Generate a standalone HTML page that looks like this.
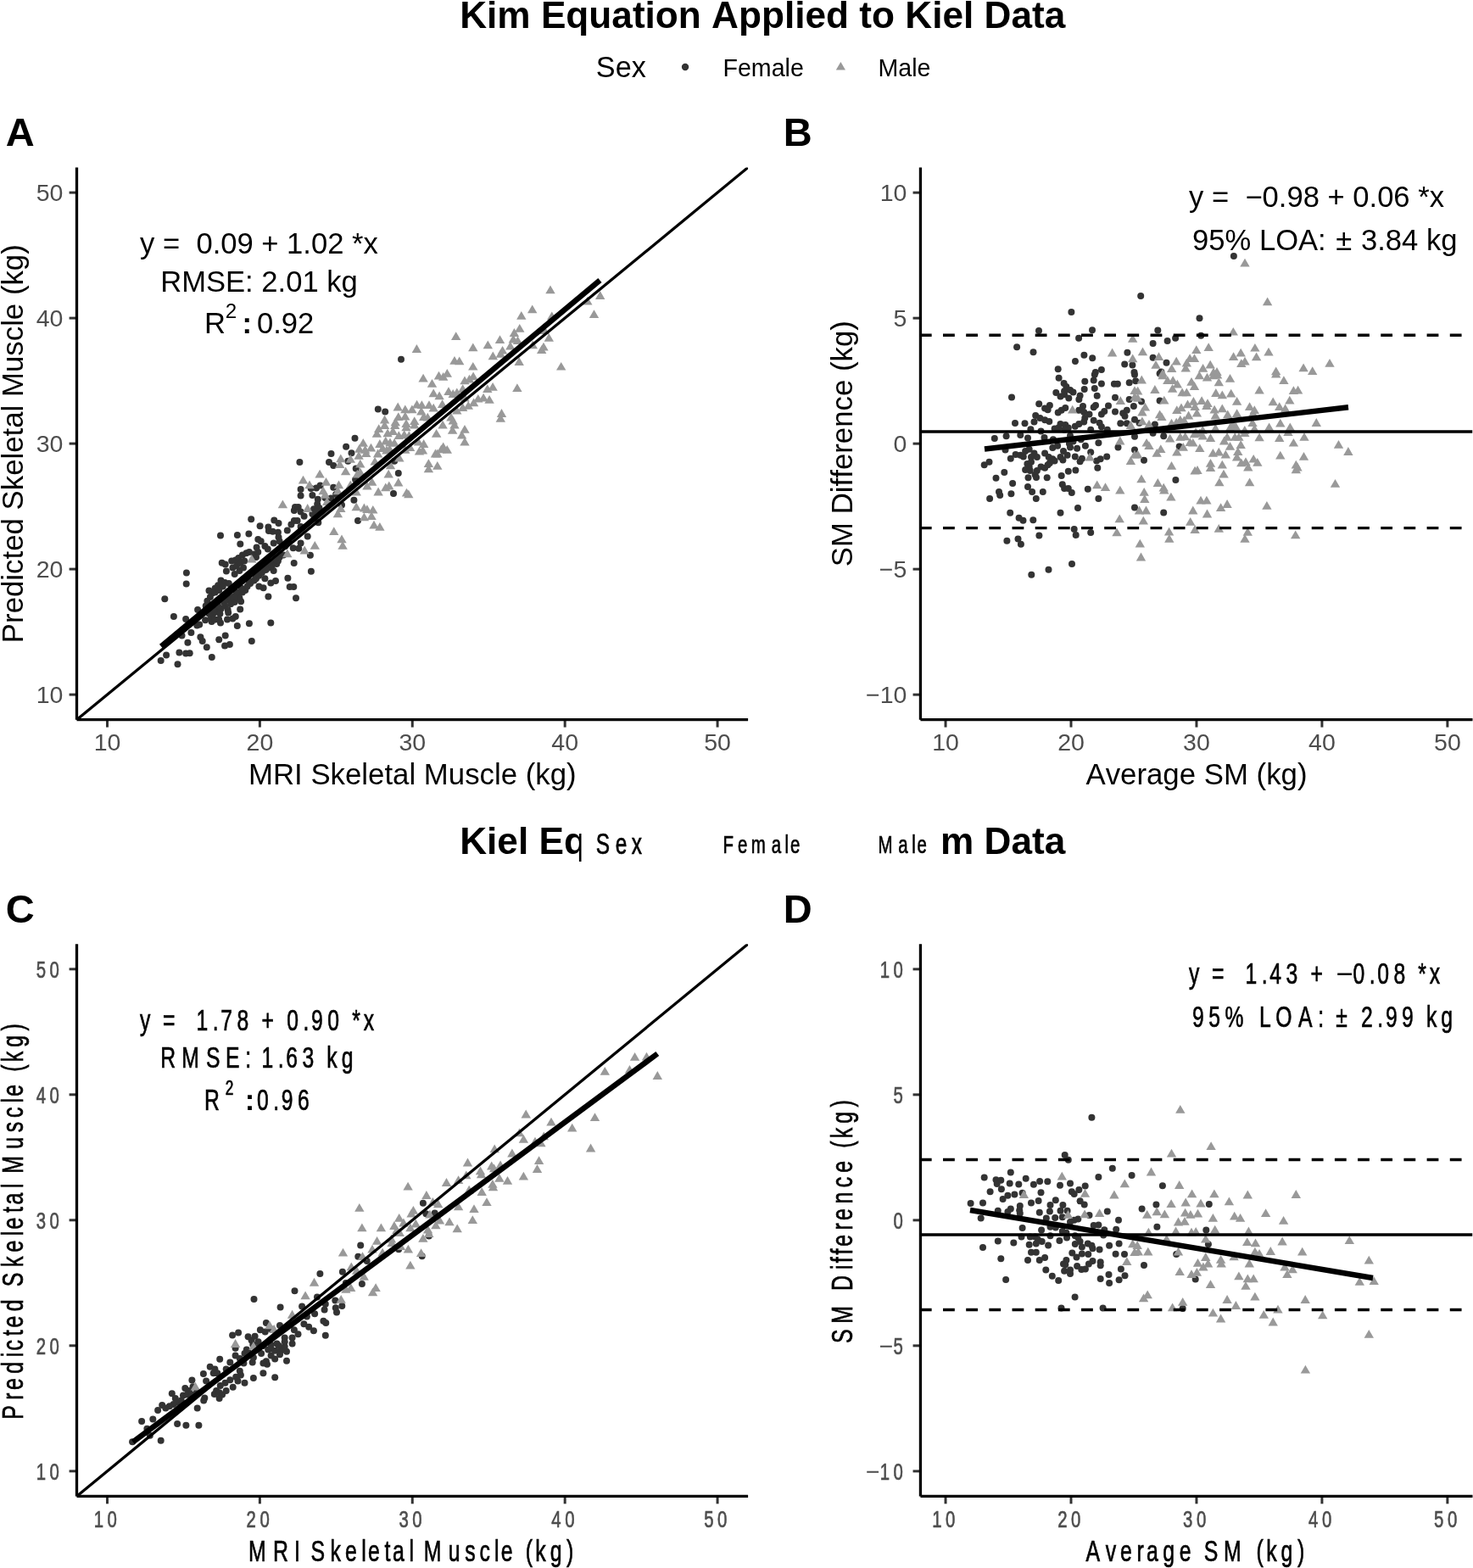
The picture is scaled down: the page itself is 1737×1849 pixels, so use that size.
<!DOCTYPE html>
<html><head><meta charset="utf-8"><style>html,body{margin:0;padding:0;background:#fff;overflow:hidden;}svg{display:block;}</style></head><body>
<svg width="1737" height="1849" viewBox="0 0 1737 1849" font-family='"Liberation Sans", Arial, Helvetica, sans-serif' style="font-kerning:none;font-feature-settings:&quot;kern&quot; 0,&quot;liga&quot; 0">
<rect width="1737" height="1849" fill="#fff"/>
<clipPath id="cA0"><rect x="90.5" y="197.55" width="791.6" height="651.1500000000001"/></clipPath>
<clipPath id="cB0"><rect x="1085.45" y="197.55" width="651.05" height="651.1500000000001"/></clipPath>
<g clip-path="url(#cA0)">
<g fill="#333333"><circle cx="219.9" cy="675.6" r="4.0"/><circle cx="219.7" cy="688.6" r="4.0"/><circle cx="194.3" cy="706.2" r="4.0"/><circle cx="204.9" cy="726.9" r="4.0"/><circle cx="219.1" cy="730.0" r="4.0"/><circle cx="233.1" cy="718.9" r="4.0"/><circle cx="246.5" cy="696.6" r="4.0"/><circle cx="316.4" cy="703.5" r="4.0"/><circle cx="339.4" cy="681.7" r="4.0"/><circle cx="346.7" cy="664.0" r="4.0"/><circle cx="349.0" cy="705.3" r="4.0"/><circle cx="319.3" cy="734.6" r="4.0"/><circle cx="293.9" cy="735.2" r="4.0"/><circle cx="279.8" cy="738.1" r="4.0"/><circle cx="296.8" cy="755.9" r="4.0"/><circle cx="283.2" cy="718.5" r="4.0"/><circle cx="284.1" cy="709.3" r="4.0"/><circle cx="221.4" cy="757.7" r="4.0"/><circle cx="225.4" cy="746.1" r="4.0"/><circle cx="214.5" cy="749.6" r="4.0"/><circle cx="236.4" cy="751.3" r="4.0"/><circle cx="238.7" cy="755.9" r="4.0"/><circle cx="243.8" cy="763.2" r="4.0"/><circle cx="258.2" cy="754.2" r="4.0"/><circle cx="265.7" cy="749.6" r="4.0"/><circle cx="265.1" cy="761.5" r="4.0"/><circle cx="270.9" cy="760.0" r="4.0"/><circle cx="249.8" cy="774.9" r="4.0"/><circle cx="211.4" cy="769.4" r="4.0"/><circle cx="219.1" cy="770.5" r="4.0"/><circle cx="223.7" cy="770.3" r="4.0"/><circle cx="196.1" cy="772.6" r="4.0"/><circle cx="189.7" cy="779.0" r="4.0"/><circle cx="209.5" cy="783.3" r="4.0"/><circle cx="268.0" cy="730.6" r="4.0"/><circle cx="274.4" cy="729.5" r="4.0"/><circle cx="277.8" cy="727.1" r="4.0"/><circle cx="242.1" cy="731.2" r="4.0"/><circle cx="249.6" cy="732.9" r="4.0"/><circle cx="260.0" cy="734.6" r="4.0"/><circle cx="322.7" cy="673.0" r="4.0"/><circle cx="319.3" cy="687.4" r="4.0"/><circle cx="325.0" cy="685.1" r="4.0"/><circle cx="312.4" cy="682.2" r="4.0"/><circle cx="310.6" cy="693.2" r="4.0"/><circle cx="305.4" cy="691.5" r="4.0"/><circle cx="341.7" cy="692.0" r="4.0"/><circle cx="346.3" cy="692.0" r="4.0"/><circle cx="266.9" cy="673.6" r="4.0"/><circle cx="276.7" cy="677.1" r="4.0"/><circle cx="261.7" cy="663.8" r="4.0"/><circle cx="265.7" cy="665.5" r="4.0"/><circle cx="326.2" cy="665.0" r="4.0"/><circle cx="327.9" cy="661.5" r="4.0"/><circle cx="232.3" cy="737.5" r="4.0"/><circle cx="235.2" cy="736.4" r="4.0"/><circle cx="287.6" cy="696.1" r="4.0"/><circle cx="260.5" cy="684.5" r="4.0"/><circle cx="265.1" cy="686.9" r="4.0"/><circle cx="269.8" cy="688.0" r="4.0"/><circle cx="257.1" cy="690.3" r="4.0"/><circle cx="253.6" cy="693.8" r="4.0"/><circle cx="250.2" cy="699.5" r="4.0"/><circle cx="247.9" cy="704.1" r="4.0"/><circle cx="244.4" cy="708.7" r="4.0"/><circle cx="245.6" cy="712.8" r="4.0"/><circle cx="242.7" cy="714.5" r="4.0"/><circle cx="253.6" cy="698.4" r="4.0"/><circle cx="258.2" cy="696.1" r="4.0"/><circle cx="262.8" cy="691.5" r="4.0"/><circle cx="273.2" cy="661.5" r="4.0"/><circle cx="277.8" cy="660.4" r="4.0"/><circle cx="281.3" cy="658.1" r="4.0"/><circle cx="285.9" cy="654.6" r="4.0"/><circle cx="290.5" cy="652.3" r="4.0"/><circle cx="274.4" cy="669.6" r="4.0"/><circle cx="279.0" cy="667.3" r="4.0"/><circle cx="283.6" cy="663.8" r="4.0"/><circle cx="288.2" cy="661.5" r="4.0"/><circle cx="282.4" cy="673.0" r="4.0"/><circle cx="287.0" cy="669.6" r="4.0"/><circle cx="293.9" cy="651.1" r="4.0"/><circle cx="299.7" cy="653.5" r="4.0"/><circle cx="304.3" cy="651.1" r="4.0"/><circle cx="302.0" cy="656.9" r="4.0"/><circle cx="251.3" cy="723.7" r="4.0"/><circle cx="255.9" cy="721.4" r="4.0"/><circle cx="260.5" cy="717.9" r="4.0"/><circle cx="265.1" cy="714.5" r="4.0"/><circle cx="268.6" cy="719.1" r="4.0"/><circle cx="269.2" cy="722.5" r="4.0"/><circle cx="249.0" cy="728.3" r="4.0"/><circle cx="253.6" cy="730.6" r="4.0"/><circle cx="258.2" cy="730.6" r="4.0"/><circle cx="264.0" cy="709.9" r="4.0"/><circle cx="268.6" cy="707.6" r="4.0"/><circle cx="272.1" cy="705.3" r="4.0"/><circle cx="276.7" cy="703.0" r="4.0"/><circle cx="281.3" cy="701.8" r="4.0"/><circle cx="285.9" cy="698.4" r="4.0"/><circle cx="289.3" cy="696.1" r="4.0"/><circle cx="291.6" cy="691.5" r="4.0"/><circle cx="295.1" cy="688.0" r="4.0"/><circle cx="299.7" cy="684.5" r="4.0"/><circle cx="302.0" cy="682.2" r="4.0"/><circle cx="305.4" cy="678.8" r="4.0"/><circle cx="308.9" cy="675.3" r="4.0"/><circle cx="313.5" cy="671.9" r="4.0"/><circle cx="316.9" cy="669.6" r="4.0"/><circle cx="320.4" cy="667.3" r="4.0"/><circle cx="322.7" cy="662.7" r="4.0"/><circle cx="326.2" cy="660.4" r="4.0"/><circle cx="329.6" cy="656.9" r="4.0"/><circle cx="334.2" cy="654.6" r="4.0"/><circle cx="296.2" cy="685.7" r="4.0"/><circle cx="292.8" cy="684.5" r="4.0"/><circle cx="300.8" cy="677.6" r="4.0"/><circle cx="305.4" cy="673.0" r="4.0"/><circle cx="313.5" cy="665.0" r="4.0"/><circle cx="318.1" cy="662.7" r="4.0"/><circle cx="310.1" cy="668.4" r="4.0"/><circle cx="276.7" cy="709.9" r="4.0"/><circle cx="282.4" cy="705.3" r="4.0"/><circle cx="259.4" cy="723.7" r="4.0"/><circle cx="251.3" cy="719.1" r="4.0"/><circle cx="246.7" cy="723.7" r="4.0"/><circle cx="257.1" cy="714.5" r="4.0"/><circle cx="272.1" cy="712.2" r="4.0"/><circle cx="279.0" cy="698.4" r="4.0"/><circle cx="284.7" cy="693.8" r="4.0"/><circle cx="275.5" cy="704.1" r="4.0"/><circle cx="296.2" cy="612.3" r="4.0"/><circle cx="306.6" cy="620.3" r="4.0"/><circle cx="316.4" cy="621.5" r="4.0"/><circle cx="323.3" cy="613.4" r="4.0"/><circle cx="328.5" cy="616.9" r="4.0"/><circle cx="316.9" cy="626.1" r="4.0"/><circle cx="321.6" cy="626.7" r="4.0"/><circle cx="327.9" cy="627.8" r="4.0"/><circle cx="328.5" cy="633.6" r="4.0"/><circle cx="329.6" cy="638.2" r="4.0"/><circle cx="304.3" cy="635.9" r="4.0"/><circle cx="307.7" cy="638.2" r="4.0"/><circle cx="293.4" cy="629.5" r="4.0"/><circle cx="279.9" cy="631.0" r="4.0"/><circle cx="260.0" cy="631.6" r="4.0"/><circle cx="283.3" cy="641.4" r="4.0"/><circle cx="302.6" cy="645.6" r="4.0"/><circle cx="312.4" cy="643.9" r="4.0"/><circle cx="315.8" cy="647.4" r="4.0"/><circle cx="322.7" cy="640.5" r="4.0"/><circle cx="338.8" cy="625.5" r="4.0"/><circle cx="343.4" cy="618.6" r="4.0"/><circle cx="346.9" cy="614.0" r="4.0"/><circle cx="346.9" cy="601.9" r="4.0"/><circle cx="348.0" cy="597.9" r="4.0"/><circle cx="345.7" cy="646.2" r="4.0"/><circle cx="340.0" cy="638.2" r="4.0"/><circle cx="336.5" cy="643.9" r="4.0"/><circle cx="418.5" cy="516.7" r="4.0"/><circle cx="408.1" cy="526.7" r="4.0"/><circle cx="390.5" cy="535.1" r="4.0"/><circle cx="414.5" cy="534.2" r="4.0"/><circle cx="388.0" cy="544.9" r="4.0"/><circle cx="393.2" cy="548.9" r="4.0"/><circle cx="410.4" cy="543.8" r="4.0"/><circle cx="419.7" cy="552.4" r="4.0"/><circle cx="353.4" cy="545.1" r="4.0"/><circle cx="419.1" cy="565.6" r="4.0"/><circle cx="469.8" cy="558.1" r="4.0"/><circle cx="464.0" cy="582.0" r="4.0"/><circle cx="417.4" cy="589.8" r="4.0"/><circle cx="422.0" cy="614.0" r="4.0"/><circle cx="362.7" cy="632.4" r="4.0"/><circle cx="354.6" cy="640.5" r="4.0"/><circle cx="352.3" cy="646.8" r="4.0"/><circle cx="375.3" cy="616.3" r="4.0"/><circle cx="354.6" cy="577.1" r="4.0"/><circle cx="354.6" cy="584.6" r="4.0"/><circle cx="368.4" cy="584.0" r="4.0"/><circle cx="366.7" cy="576.0" r="4.0"/><circle cx="373.0" cy="575.4" r="4.0"/><circle cx="377.6" cy="572.5" r="4.0"/><circle cx="393.2" cy="574.8" r="4.0"/><circle cx="374.8" cy="588.7" r="4.0"/><circle cx="383.4" cy="586.9" r="4.0"/><circle cx="390.3" cy="587.5" r="4.0"/><circle cx="374.2" cy="594.4" r="4.0"/><circle cx="370.1" cy="600.2" r="4.0"/><circle cx="376.5" cy="599.0" r="4.0"/><circle cx="351.7" cy="597.9" r="4.0"/><circle cx="354.6" cy="603.6" r="4.0"/><circle cx="358.6" cy="608.8" r="4.0"/><circle cx="350.6" cy="614.0" r="4.0"/><circle cx="403.0" cy="595.6" r="4.0"/><circle cx="465.1" cy="543.8" r="4.0"/><circle cx="396.1" cy="582.9" r="4.0"/><circle cx="373.0" cy="603.6" r="4.0"/><circle cx="368.4" cy="605.9" r="4.0"/><circle cx="370.7" cy="610.5" r="4.0"/><circle cx="354.6" cy="620.9" r="4.0"/><circle cx="365.9" cy="654.8" r="4.0"/><circle cx="366.9" cy="673.8" r="4.0"/><circle cx="473.0" cy="423.7" r="4.0"/><circle cx="445.8" cy="482.6" r="4.0"/><circle cx="454.2" cy="485.6" r="4.0"/></g>
<g fill="#999999"><path d="M291.1 663.5H302.5L296.8 653.7Z"/><path d="M333.1 657.2H344.5L338.8 647.4Z"/><path d="M327.7 599.3H339.1L333.4 589.5Z"/><path d="M441.0 510.1H452.4L446.7 500.3Z"/><path d="M447.9 506.0H459.3L453.6 496.2Z"/><path d="M460.0 506.0H471.4L465.7 496.2Z"/><path d="M473.3 508.3H484.7L479.0 498.6Z"/><path d="M483.0 505.5H494.4L488.7 495.7Z"/><path d="M516.4 505.5H527.8L522.1 495.7Z"/><path d="M530.2 505.5H541.7L536.0 495.7Z"/><path d="M542.3 510.7H553.7L548.0 500.9Z"/><path d="M438.7 515.8H450.1L444.4 506.0Z"/><path d="M451.4 515.3H462.8L457.1 505.5Z"/><path d="M457.7 513.0H469.1L463.4 503.2Z"/><path d="M464.6 518.1H476.0L470.3 508.3Z"/><path d="M471.0 517.0H482.4L476.7 507.2Z"/><path d="M476.7 518.1H488.1L482.4 508.3Z"/><path d="M508.9 515.8H520.4L514.6 506.0Z"/><path d="M527.9 511.8H539.4L533.6 502.0Z"/><path d="M538.9 517.6H550.3L544.6 507.8Z"/><path d="M542.3 525.6H553.7L548.0 515.8Z"/><path d="M422.6 526.8H434.0L428.3 517.0Z"/><path d="M418.0 533.7H429.4L423.7 523.9Z"/><path d="M431.8 532.5H443.2L437.5 522.7Z"/><path d="M426.1 538.9H437.4L431.8 529.1Z"/><path d="M442.2 527.9H453.6L447.9 518.1Z"/><path d="M449.1 524.5H460.5L454.8 514.7Z"/><path d="M454.3 526.2H465.7L460.0 516.4Z"/><path d="M459.4 526.8H470.8L465.1 517.0Z"/><path d="M487.7 525.6H499.1L493.4 515.8Z"/><path d="M494.0 527.9H505.4L499.7 518.1Z"/><path d="M477.9 532.0H489.3L483.6 522.2Z"/><path d="M472.1 534.8H483.5L477.8 525.0Z"/><path d="M488.8 536.6H500.2L494.5 526.8Z"/><path d="M492.8 535.4H504.2L498.5 525.6Z"/><path d="M510.1 539.4H521.5L515.8 529.6Z"/><path d="M517.0 531.4H528.4L522.7 521.6Z"/><path d="M521.6 534.8H533.0L527.3 525.0Z"/><path d="M424.9 534.8H436.3L430.6 525.0Z"/><path d="M445.6 533.1H457.0L451.3 523.3Z"/><path d="M439.9 539.4H451.3L445.6 529.6Z"/><path d="M450.2 535.4H461.6L455.9 525.6Z"/><path d="M453.7 533.7H465.1L459.4 523.9Z"/><path d="M514.7 534.3H526.1L520.4 524.5Z"/><path d="M396.1 545.2H407.5L401.8 535.4Z"/><path d="M395.0 552.1H406.4L400.7 542.3Z"/><path d="M407.6 545.8H419.0L413.3 536.0Z"/><path d="M417.4 541.8H428.8L423.1 532.0Z"/><path d="M419.1 551.5H430.5L424.8 541.7Z"/><path d="M465.2 544.6H476.6L470.9 534.8Z"/><path d="M499.7 551.0H511.1L505.4 541.2Z"/><path d="M510.1 553.8H521.5L515.8 544.0Z"/><path d="M499.7 557.3H511.1L505.4 547.5Z"/><path d="M454.8 553.3H466.2L460.5 543.5Z"/><path d="M436.4 548.6H447.8L442.1 538.9Z"/><path d="M507.8 539.4H519.2L513.5 529.6Z"/><path d="M401.9 560.2H413.3L407.6 550.4Z"/><path d="M371.4 563.6H382.8L377.1 553.8Z"/><path d="M351.8 570.5H363.2L357.5 560.7Z"/><path d="M419.1 561.3H430.5L424.8 551.5Z"/><path d="M415.7 563.6H427.1L421.4 553.8Z"/><path d="M452.5 563.6H463.9L458.2 553.8Z"/><path d="M433.0 572.8H444.4L438.7 563.0Z"/><path d="M464.1 573.4H475.4L469.8 563.6Z"/><path d="M359.3 576.3H370.7L365.0 566.5Z"/><path d="M378.8 572.8H390.2L384.5 563.0Z"/><path d="M393.8 576.3H405.2L399.5 566.5Z"/><path d="M375.4 583.2H386.8L381.1 573.4Z"/><path d="M377.7 587.8H389.1L383.4 578.0Z"/><path d="M392.7 583.2H404.1L398.4 573.4Z"/><path d="M407.6 576.3H419.0L413.3 566.5Z"/><path d="M427.2 577.4H438.6L432.9 567.6Z"/><path d="M449.1 579.2H460.5L454.8 569.4Z"/><path d="M453.1 577.4H464.5L458.8 567.6Z"/><path d="M440.4 584.4H451.8L446.1 574.6Z"/><path d="M473.8 585.5H485.2L479.5 575.7Z"/><path d="M476.1 587.2H487.5L481.8 577.4Z"/><path d="M414.5 584.4H425.9L420.2 574.6Z"/><path d="M414.5 602.2H425.9L420.2 592.4Z"/><path d="M423.8 603.4H435.1L429.4 593.6Z"/><path d="M427.2 605.1H438.6L432.9 595.3Z"/><path d="M434.1 605.6H445.5L439.8 595.9Z"/><path d="M357.0 603.9H368.4L362.7 594.1Z"/><path d="M396.1 603.9H407.5L401.8 594.1Z"/><path d="M392.7 610.2H404.1L398.4 600.5Z"/><path d="M380.0 595.9H391.4L385.7 586.1Z"/><path d="M423.8 614.3H435.1L429.4 604.5Z"/><path d="M432.4 613.1H443.8L438.1 603.3Z"/><path d="M435.3 623.5H446.7L441.0 613.7Z"/><path d="M442.2 625.8H453.6L447.9 616.0Z"/><path d="M388.1 631.0H399.4L393.8 621.2Z"/><path d="M397.3 640.2H408.7L403.0 630.4Z"/><path d="M398.4 647.7H409.8L404.1 637.9Z"/><path d="M365.6 647.7H377.0L371.3 637.9Z"/><path d="M353.5 653.4H364.9L359.2 643.6Z"/><path d="M532.0 401.0H543.4L537.7 391.2Z"/><path d="M485.7 415.9H497.1L491.4 406.1Z"/><path d="M530.2 429.7H541.7L536.0 419.9Z"/><path d="M536.0 430.3H547.4L541.7 420.5Z"/><path d="M493.4 450.5H504.8L499.1 440.7Z"/><path d="M511.8 447.6H523.2L517.5 437.8Z"/><path d="M517.0 448.7H528.4L522.7 438.9Z"/><path d="M521.6 444.7H533.0L527.3 434.9Z"/><path d="M503.8 456.8H515.2L509.5 447.0Z"/><path d="M542.3 453.3H553.7L548.0 443.6Z"/><path d="M505.5 468.3H516.9L511.2 458.5Z"/><path d="M512.4 471.2H523.8L518.1 461.4Z"/><path d="M523.3 466.0H534.7L529.0 456.2Z"/><path d="M528.5 468.9H539.9L534.2 459.1Z"/><path d="M533.1 467.2H544.5L538.8 457.4Z"/><path d="M540.0 463.1H551.4L545.7 453.3Z"/><path d="M463.5 484.4H474.9L469.2 474.6Z"/><path d="M472.1 487.3H483.5L477.8 477.5Z"/><path d="M480.2 487.3H491.6L485.9 477.5Z"/><path d="M485.9 481.6H497.3L491.6 471.8Z"/><path d="M491.7 482.1H503.1L497.4 472.3Z"/><path d="M500.3 482.1H511.7L506.0 472.3Z"/><path d="M505.5 485.6H516.9L511.2 475.8Z"/><path d="M515.9 481.0H527.3L521.6 471.2Z"/><path d="M491.1 489.6H502.5L496.8 479.8Z"/><path d="M464.1 495.9H475.4L469.8 486.2Z"/><path d="M472.1 495.4H483.5L477.8 485.6Z"/><path d="M483.0 501.1H494.4L488.7 491.3Z"/><path d="M494.0 495.9H505.4L499.7 486.2Z"/><path d="M498.6 496.5H510.0L504.3 486.7Z"/><path d="M526.2 496.5H537.6L531.9 486.7Z"/><path d="M528.5 500.5H539.9L534.2 490.8Z"/><path d="M447.9 499.4H459.3L453.6 489.6Z"/><path d="M460.6 502.3H472.0L466.3 492.5Z"/><path d="M473.3 504.0H484.7L479.0 494.2Z"/><path d="M533.1 488.5H544.5L538.8 478.7Z"/><path d="M540.0 485.0H551.4L545.7 475.2Z"/><path d="M542.3 473.5H553.7L548.0 463.7Z"/><path d="M622.0 369.3H633.4L627.7 359.5Z"/><path d="M609.1 376.8H620.5L614.8 367.0Z"/><path d="M694.8 375.0H706.2L700.5 365.2Z"/><path d="M687.1 359.5H698.5L692.8 349.7Z"/><path d="M607.0 391.8H618.5L612.8 382.0Z"/><path d="M600.7 396.9H612.1L606.4 387.1Z"/><path d="M583.8 405.0H595.2L589.5 395.2Z"/><path d="M569.6 411.3H581.0L575.3 401.5Z"/><path d="M552.1 414.2H563.5L557.8 404.4Z"/><path d="M599.6 404.4H611.0L605.3 394.6Z"/><path d="M604.8 406.1H616.2L610.5 396.3Z"/><path d="M596.1 412.5H607.5L601.8 402.7Z"/><path d="M586.9 417.6H598.3L592.6 407.9Z"/><path d="M584.6 421.7H596.0L590.3 411.9Z"/><path d="M575.6 424.3H587.0L581.3 414.5Z"/><path d="M641.6 402.7H653.0L647.3 392.9Z"/><path d="M635.3 413.6H646.7L641.0 403.8Z"/><path d="M633.0 417.1H644.4L638.7 407.3Z"/><path d="M622.6 411.3H634.0L628.3 401.5Z"/><path d="M606.5 430.9H617.9L612.2 421.1Z"/><path d="M552.1 436.6H563.5L557.8 426.9Z"/><path d="M656.0 436.6H667.4L661.7 426.9Z"/><path d="M552.4 448.2H563.8L558.1 438.4Z"/><path d="M547.8 451.6H559.2L553.5 441.8Z"/><path d="M575.4 460.8H586.8L581.1 451.0Z"/><path d="M569.1 463.1H580.5L574.8 453.3Z"/><path d="M604.2 462.0H615.6L609.9 452.2Z"/><path d="M564.4 473.5H575.9L570.1 463.7Z"/><path d="M558.1 474.6H569.5L563.8 464.9Z"/><path d="M571.4 475.8H582.8L577.1 466.0Z"/><path d="M552.9 479.2H564.3L558.6 469.5Z"/><path d="M546.6 482.7H558.0L552.3 472.9Z"/><path d="M585.8 491.9H597.2L591.5 482.1Z"/><path d="M584.6 497.7H596.0L590.3 487.9Z"/><path d="M645.0 377.3H656.5L650.8 367.6Z"/><path d="M636.4 394.0H647.8L642.1 384.2Z"/><path d="M643.3 346.2H654.7L649.0 336.4Z"/><path d="M702.0 352.9H713.4L707.7 343.1Z"/></g>
<line x1="90.50" y1="848.70" x2="882.06" y2="197.50" stroke="#000" stroke-width="3.3"/>
<line x1="190.05" y1="762.3" x2="707.4" y2="330.5" stroke="#000" stroke-width="6.5"/>
</g>
<line x1="126.48" y1="848.70" x2="126.48" y2="857.60" stroke="#333" stroke-width="3"/>
<text transform="translate(126.48,884.90)" x="-15.85" font-size="28.5" fill="#4D4D4D">10</text>
<line x1="306.38" y1="848.70" x2="306.38" y2="857.60" stroke="#333" stroke-width="3"/>
<text transform="translate(306.38,884.90)" x="-15.85" font-size="28.5" fill="#4D4D4D">20</text>
<line x1="486.28" y1="848.70" x2="486.28" y2="857.60" stroke="#333" stroke-width="3"/>
<text transform="translate(486.28,884.90)" x="-15.85" font-size="28.5" fill="#4D4D4D">30</text>
<line x1="666.18" y1="848.70" x2="666.18" y2="857.60" stroke="#333" stroke-width="3"/>
<text transform="translate(666.18,884.90)" x="-15.85" font-size="28.5" fill="#4D4D4D">40</text>
<line x1="846.08" y1="848.70" x2="846.08" y2="857.60" stroke="#333" stroke-width="3"/>
<text transform="translate(846.08,884.90)" x="-15.85" font-size="28.5" fill="#4D4D4D">50</text>
<line x1="81.60" y1="819.10" x2="90.50" y2="819.10" stroke="#333" stroke-width="3"/>
<text transform="translate(74.40,829.20)" x="-31.70" font-size="28.5" fill="#4D4D4D">10</text>
<line x1="81.60" y1="671.10" x2="90.50" y2="671.10" stroke="#333" stroke-width="3"/>
<text transform="translate(74.40,681.20)" x="-31.70" font-size="28.5" fill="#4D4D4D">20</text>
<line x1="81.60" y1="523.10" x2="90.50" y2="523.10" stroke="#333" stroke-width="3"/>
<text transform="translate(74.40,533.20)" x="-31.70" font-size="28.5" fill="#4D4D4D">30</text>
<line x1="81.60" y1="375.10" x2="90.50" y2="375.10" stroke="#333" stroke-width="3"/>
<text transform="translate(74.40,385.20)" x="-31.70" font-size="28.5" fill="#4D4D4D">40</text>
<line x1="81.60" y1="227.10" x2="90.50" y2="227.10" stroke="#333" stroke-width="3"/>
<text transform="translate(74.40,237.20)" x="-31.70" font-size="28.5" fill="#4D4D4D">50</text>
<line x1="90.50" y1="197.55" x2="90.50" y2="848.70" stroke="#000" stroke-width="3.3"/>
<line x1="90.50" y1="848.70" x2="882.10" y2="848.70" stroke="#000" stroke-width="3.3"/>
<text transform="translate(486.30,925.20)" x="-193.38" font-size="34.8">MRI Skeletal Muscle (kg)</text>
<text transform="translate(26.60,523.15) rotate(-90)" x="-234.99" font-size="34.8">Predicted Skeletal Muscle (kg)</text>
<g clip-path="url(#cB0)">
<g fill="#333333"><circle cx="1263.4" cy="368.1" r="4.0"/><circle cx="1225.0" cy="389.9" r="4.0"/><circle cx="1288.0" cy="389.2" r="4.0"/><circle cx="1272.1" cy="398.8" r="4.0"/><circle cx="1199.1" cy="409.2" r="4.0"/><circle cx="1218.5" cy="415.3" r="4.0"/><circle cx="1329.4" cy="415.7" r="4.0"/><circle cx="1278.4" cy="418.7" r="4.0"/><circle cx="1288.2" cy="422.2" r="4.0"/><circle cx="1268.0" cy="426.1" r="4.0"/><circle cx="1247.7" cy="435.3" r="4.0"/><circle cx="1326.2" cy="429.6" r="4.0"/><circle cx="1335.4" cy="430.5" r="4.0"/><circle cx="1298.9" cy="436.0" r="4.0"/><circle cx="1291.8" cy="439.1" r="4.0"/><circle cx="1337.5" cy="439.1" r="4.0"/><circle cx="1454.9" cy="302.1" r="4.0"/><circle cx="1345.2" cy="348.9" r="4.0"/><circle cx="1414.5" cy="375.2" r="4.0"/><circle cx="1365.3" cy="389.6" r="4.0"/><circle cx="1416.2" cy="395.7" r="4.0"/><circle cx="1386.1" cy="398.8" r="4.0"/><circle cx="1376.6" cy="401.9" r="4.0"/><circle cx="1359.6" cy="405.1" r="4.0"/><circle cx="1359.6" cy="421.8" r="4.0"/><circle cx="1375.5" cy="427.8" r="4.0"/><circle cx="1369.4" cy="438.5" r="4.0"/><circle cx="1248.6" cy="445.8" r="4.0"/><circle cx="1254.6" cy="452.1" r="4.0"/><circle cx="1279.3" cy="449.8" r="4.0"/><circle cx="1289.7" cy="448.6" r="4.0"/><circle cx="1290.8" cy="441.7" r="4.0"/><circle cx="1298.9" cy="452.4" r="4.0"/><circle cx="1313.9" cy="452.7" r="4.0"/><circle cx="1317.9" cy="452.7" r="4.0"/><circle cx="1331.7" cy="451.3" r="4.0"/><circle cx="1338.0" cy="441.7" r="4.0"/><circle cx="1339.2" cy="449.2" r="4.0"/><circle cx="1257.4" cy="456.1" r="4.0"/><circle cx="1262.0" cy="460.1" r="4.0"/><circle cx="1265.5" cy="462.4" r="4.0"/><circle cx="1278.7" cy="459.0" r="4.0"/><circle cx="1290.8" cy="457.9" r="4.0"/><circle cx="1245.3" cy="463.0" r="4.0"/><circle cx="1250.5" cy="467.6" r="4.0"/><circle cx="1255.1" cy="465.3" r="4.0"/><circle cx="1260.3" cy="469.4" r="4.0"/><circle cx="1273.6" cy="466.5" r="4.0"/><circle cx="1272.4" cy="471.1" r="4.0"/><circle cx="1293.7" cy="466.7" r="4.0"/><circle cx="1315.0" cy="468.8" r="4.0"/><circle cx="1331.7" cy="470.9" r="4.0"/><circle cx="1193.0" cy="468.6" r="4.0"/><circle cx="1255.1" cy="461.3" r="4.0"/><circle cx="1225.2" cy="476.3" r="4.0"/><circle cx="1237.9" cy="478.0" r="4.0"/><circle cx="1232.1" cy="481.4" r="4.0"/><circle cx="1235.6" cy="483.2" r="4.0"/><circle cx="1256.3" cy="480.9" r="4.0"/><circle cx="1251.7" cy="483.8" r="4.0"/><circle cx="1247.7" cy="486.6" r="4.0"/><circle cx="1277.0" cy="479.1" r="4.0"/><circle cx="1272.4" cy="483.8" r="4.0"/><circle cx="1278.2" cy="486.1" r="4.0"/><circle cx="1292.0" cy="478.0" r="4.0"/><circle cx="1289.7" cy="480.3" r="4.0"/><circle cx="1284.5" cy="488.4" r="4.0"/><circle cx="1307.0" cy="478.6" r="4.0"/><circle cx="1302.3" cy="484.9" r="4.0"/><circle cx="1298.9" cy="488.4" r="4.0"/><circle cx="1315.0" cy="485.5" r="4.0"/><circle cx="1324.2" cy="487.2" r="4.0"/><circle cx="1328.8" cy="483.8" r="4.0"/><circle cx="1326.5" cy="490.7" r="4.0"/><circle cx="1336.9" cy="479.1" r="4.0"/><circle cx="1221.2" cy="490.1" r="4.0"/><circle cx="1197.0" cy="499.1" r="4.0"/><circle cx="1208.5" cy="499.3" r="4.0"/><circle cx="1219.5" cy="497.6" r="4.0"/><circle cx="1226.4" cy="493.0" r="4.0"/><circle cx="1232.1" cy="495.3" r="4.0"/><circle cx="1237.3" cy="497.0" r="4.0"/><circle cx="1338.0" cy="494.7" r="4.0"/><circle cx="1321.3" cy="499.3" r="4.0"/><circle cx="1328.8" cy="499.3" r="4.0"/><circle cx="1250.5" cy="499.9" r="4.0"/><circle cx="1256.3" cy="501.0" r="4.0"/><circle cx="1267.8" cy="502.8" r="4.0"/><circle cx="1272.4" cy="499.9" r="4.0"/><circle cx="1278.2" cy="497.6" r="4.0"/><circle cx="1279.3" cy="493.0" r="4.0"/><circle cx="1289.7" cy="495.8" r="4.0"/><circle cx="1296.6" cy="498.7" r="4.0"/><circle cx="1298.9" cy="503.3" r="4.0"/><circle cx="1305.8" cy="506.8" r="4.0"/><circle cx="1286.2" cy="506.8" r="4.0"/><circle cx="1215.4" cy="506.2" r="4.0"/><circle cx="1227.5" cy="508.5" r="4.0"/><circle cx="1243.6" cy="505.6" r="4.0"/><circle cx="1248.2" cy="504.5" r="4.0"/><circle cx="1259.8" cy="504.5" r="4.0"/><circle cx="1255.1" cy="506.8" r="4.0"/><circle cx="1172.8" cy="516.9" r="4.0"/><circle cx="1186.6" cy="514.3" r="4.0"/><circle cx="1203.3" cy="513.1" r="4.0"/><circle cx="1212.0" cy="516.6" r="4.0"/><circle cx="1231.5" cy="516.0" r="4.0"/><circle cx="1241.9" cy="518.3" r="4.0"/><circle cx="1262.0" cy="513.7" r="4.0"/><circle cx="1274.7" cy="518.3" r="4.0"/><circle cx="1295.4" cy="522.3" r="4.0"/><circle cx="1279.9" cy="525.8" r="4.0"/><circle cx="1318.5" cy="527.5" r="4.0"/><circle cx="1338.0" cy="514.8" r="4.0"/><circle cx="1265.5" cy="520.6" r="4.0"/><circle cx="1260.9" cy="522.9" r="4.0"/><circle cx="1185.5" cy="530.4" r="4.0"/><circle cx="1213.7" cy="529.8" r="4.0"/><circle cx="1241.3" cy="528.1" r="4.0"/><circle cx="1247.1" cy="525.8" r="4.0"/><circle cx="1262.0" cy="527.5" r="4.0"/><circle cx="1270.1" cy="528.7" r="4.0"/><circle cx="1254.0" cy="532.1" r="4.0"/><circle cx="1258.6" cy="536.7" r="4.0"/><circle cx="1286.2" cy="533.3" r="4.0"/><circle cx="1267.8" cy="538.5" r="4.0"/><circle cx="1275.9" cy="540.8" r="4.0"/><circle cx="1273.6" cy="544.2" r="4.0"/><circle cx="1293.1" cy="543.6" r="4.0"/><circle cx="1297.7" cy="541.3" r="4.0"/><circle cx="1305.2" cy="538.5" r="4.0"/><circle cx="1338.0" cy="530.4" r="4.0"/><circle cx="1197.6" cy="536.1" r="4.0"/><circle cx="1203.3" cy="536.7" r="4.0"/><circle cx="1206.8" cy="538.5" r="4.0"/><circle cx="1191.8" cy="540.8" r="4.0"/><circle cx="1219.5" cy="534.4" r="4.0"/><circle cx="1222.9" cy="539.0" r="4.0"/><circle cx="1232.1" cy="534.4" r="4.0"/><circle cx="1236.7" cy="539.0" r="4.0"/><circle cx="1241.3" cy="541.3" r="4.0"/><circle cx="1243.6" cy="543.6" r="4.0"/><circle cx="1250.5" cy="539.0" r="4.0"/><circle cx="1253.4" cy="542.5" r="4.0"/><circle cx="1216.0" cy="539.0" r="4.0"/><circle cx="1209.1" cy="532.1" r="4.0"/><circle cx="1166.5" cy="544.8" r="4.0"/><circle cx="1160.7" cy="548.2" r="4.0"/><circle cx="1184.3" cy="556.9" r="4.0"/><circle cx="1211.4" cy="547.1" r="4.0"/><circle cx="1216.0" cy="544.8" r="4.0"/><circle cx="1213.7" cy="550.5" r="4.0"/><circle cx="1209.1" cy="554.0" r="4.0"/><circle cx="1214.8" cy="555.1" r="4.0"/><circle cx="1222.9" cy="555.1" r="4.0"/><circle cx="1227.5" cy="550.5" r="4.0"/><circle cx="1232.1" cy="551.7" r="4.0"/><circle cx="1235.6" cy="548.2" r="4.0"/><circle cx="1237.9" cy="545.9" r="4.0"/><circle cx="1251.7" cy="560.9" r="4.0"/><circle cx="1259.8" cy="555.7" r="4.0"/><circle cx="1268.4" cy="554.6" r="4.0"/><circle cx="1294.3" cy="551.7" r="4.0"/><circle cx="1220.6" cy="559.8" r="4.0"/><circle cx="1174.5" cy="563.8" r="4.0"/><circle cx="1194.1" cy="570.1" r="4.0"/><circle cx="1212.5" cy="563.2" r="4.0"/><circle cx="1222.0" cy="563.0" r="4.0"/><circle cx="1234.7" cy="563.2" r="4.0"/><circle cx="1212.0" cy="574.1" r="4.0"/><circle cx="1217.1" cy="579.9" r="4.0"/><circle cx="1229.8" cy="579.9" r="4.0"/><circle cx="1252.8" cy="571.3" r="4.0"/><circle cx="1255.1" cy="575.9" r="4.0"/><circle cx="1259.8" cy="575.9" r="4.0"/><circle cx="1263.8" cy="581.0" r="4.0"/><circle cx="1282.8" cy="576.8" r="4.0"/><circle cx="1178.0" cy="579.9" r="4.0"/><circle cx="1179.2" cy="583.9" r="4.0"/><circle cx="1192.4" cy="582.2" r="4.0"/><circle cx="1167.1" cy="588.0" r="4.0"/><circle cx="1221.8" cy="588.0" r="4.0"/><circle cx="1295.4" cy="588.0" r="4.0"/><circle cx="1367.6" cy="440.6" r="4.0"/><circle cx="1346.0" cy="473.6" r="4.0"/><circle cx="1367.6" cy="472.5" r="4.0"/><circle cx="1343.5" cy="498.7" r="4.0"/><circle cx="1361.9" cy="500.4" r="4.0"/><circle cx="1359.6" cy="510.8" r="4.0"/><circle cx="1372.2" cy="514.3" r="4.0"/><circle cx="1390.7" cy="526.4" r="4.0"/><circle cx="1349.0" cy="542.8" r="4.0"/><circle cx="1386.4" cy="566.1" r="4.0"/><circle cx="1191.2" cy="604.7" r="4.0"/><circle cx="1201.6" cy="610.7" r="4.0"/><circle cx="1206.5" cy="613.8" r="4.0"/><circle cx="1218.3" cy="613.3" r="4.0"/><circle cx="1250.5" cy="604.7" r="4.0"/><circle cx="1271.0" cy="599.0" r="4.0"/><circle cx="1266.7" cy="624.0" r="4.0"/><circle cx="1268.7" cy="630.9" r="4.0"/><circle cx="1286.2" cy="628.0" r="4.0"/><circle cx="1225.4" cy="631.5" r="4.0"/><circle cx="1187.4" cy="637.8" r="4.0"/><circle cx="1200.5" cy="635.5" r="4.0"/><circle cx="1203.9" cy="641.8" r="4.0"/><circle cx="1264.0" cy="665.1" r="4.0"/><circle cx="1236.5" cy="671.8" r="4.0"/><circle cx="1216.3" cy="677.7" r="4.0"/><circle cx="1338.0" cy="598.6" r="4.0"/><circle cx="1372.2" cy="604.4" r="4.0"/></g>
<g fill="#999999"><path d="M1305.9 420.4H1317.3L1311.6 410.6Z"/><path d="M1330.0 403.7H1341.4L1335.7 393.9Z"/><path d="M1330.0 427.3H1341.4L1335.7 417.5Z"/><path d="M1462.3 314.5H1473.7L1468.0 304.7Z"/><path d="M1488.9 360.3H1500.3L1494.6 350.5Z"/><path d="M1448.6 395.6H1460.0L1454.3 385.9Z"/><path d="M1341.8 419.2H1353.2L1347.5 409.5Z"/><path d="M1405.1 416.9H1416.5L1410.8 407.2Z"/><path d="M1419.5 414.1H1430.9L1425.2 404.3Z"/><path d="M1474.2 414.6H1485.6L1479.9 404.9Z"/><path d="M1490.3 419.5H1501.7L1496.0 409.7Z"/><path d="M1360.8 425.0H1372.2L1366.5 415.2Z"/><path d="M1457.5 420.6H1468.9L1463.2 410.8Z"/><path d="M1448.9 425.0H1460.3L1454.6 415.2Z"/><path d="M1475.9 425.2H1487.3L1481.6 415.4Z"/><path d="M1381.5 430.5H1392.9L1387.2 420.7Z"/><path d="M1397.4 427.1H1408.8L1403.1 417.3Z"/><path d="M1402.8 427.1H1414.2L1408.5 417.3Z"/><path d="M1393.6 432.5H1405.0L1399.3 422.7Z"/><path d="M1357.3 434.8H1368.7L1363.0 425.0Z"/><path d="M1462.3 430.5H1473.7L1468.0 420.7Z"/><path d="M1458.1 433.1H1469.5L1463.8 423.3Z"/><path d="M1421.5 434.4H1432.9L1427.2 424.7Z"/><path d="M1376.0 439.1H1387.4L1381.7 429.3Z"/><path d="M1392.5 438.6H1403.9L1398.2 428.8Z"/><path d="M1412.9 438.8H1424.3L1418.6 429.0Z"/><path d="M1429.3 442.9H1440.7L1435.0 433.1Z"/><path d="M1499.0 442.3H1510.4L1504.7 432.5Z"/><path d="M1531.4 438.2H1542.8L1537.1 428.5Z"/><path d="M1425.3 443.4H1436.7L1431.0 433.6Z"/><path d="M1365.4 444.6H1376.8L1371.1 434.8Z"/><path d="M1562.3 432.8H1573.7L1568.0 423.0Z"/><path d="M1542.0 442.1H1553.4L1547.7 432.3Z"/><path d="M1259.0 487.5H1270.4L1264.7 477.7Z"/><path d="M1315.6 477.1H1327.0L1321.3 467.3Z"/><path d="M1327.7 505.9H1339.1L1333.4 496.1Z"/><path d="M1332.3 465.0H1343.7L1338.0 455.2Z"/><path d="M1332.3 472.5H1343.7L1338.0 462.7Z"/><path d="M1315.1 524.4H1326.5L1320.8 514.6Z"/><path d="M1279.4 543.4H1290.8L1285.1 533.6Z"/><path d="M1327.7 547.9H1339.1L1333.4 538.1Z"/><path d="M1332.3 540.5H1343.7L1338.0 530.7Z"/><path d="M1288.0 576.2H1299.4L1293.7 566.4Z"/><path d="M1297.8 579.0H1309.2L1303.5 569.2Z"/><path d="M1315.1 582.5H1326.5L1320.8 572.7Z"/><path d="M1340.6 452.4H1352.0L1346.3 442.6Z"/><path d="M1365.4 447.2H1376.8L1371.1 437.4Z"/><path d="M1371.1 453.0H1382.5L1376.8 443.2Z"/><path d="M1377.5 453.0H1388.9L1383.2 443.2Z"/><path d="M1382.7 457.6H1394.1L1388.4 447.8Z"/><path d="M1399.3 454.7H1410.8L1405.0 444.9Z"/><path d="M1402.8 459.9H1414.2L1408.5 450.1Z"/><path d="M1408.6 447.2H1420.0L1414.3 437.4Z"/><path d="M1417.8 449.5H1429.2L1423.5 439.7Z"/><path d="M1425.3 447.2H1436.7L1431.0 437.4Z"/><path d="M1429.9 446.6H1441.3L1435.6 436.8Z"/><path d="M1431.6 455.3H1443.0L1437.3 445.5Z"/><path d="M1444.8 450.7H1456.2L1450.5 440.9Z"/><path d="M1499.0 445.5H1510.4L1504.7 435.7Z"/><path d="M1508.2 453.0H1519.6L1513.9 443.2Z"/><path d="M1356.2 463.9H1367.6L1361.9 454.1Z"/><path d="M1376.9 462.8H1388.3L1382.6 453.0Z"/><path d="M1336.0 465.6H1347.4L1341.7 455.8Z"/><path d="M1388.4 467.3H1399.8L1394.1 457.6Z"/><path d="M1393.6 467.3H1405.0L1399.3 457.6Z"/><path d="M1428.1 467.9H1439.5L1433.8 458.1Z"/><path d="M1435.6 470.2H1447.0L1441.3 460.4Z"/><path d="M1446.0 468.5H1457.4L1451.7 458.7Z"/><path d="M1479.4 464.5H1490.8L1485.1 454.7Z"/><path d="M1519.7 465.0H1531.1L1525.4 455.2Z"/><path d="M1524.9 464.5H1536.3L1530.6 454.7Z"/><path d="M1367.1 476.6H1378.5L1372.8 466.8Z"/><path d="M1394.8 481.2H1406.2L1400.5 471.4Z"/><path d="M1401.7 477.7H1413.1L1407.4 467.9Z"/><path d="M1411.4 477.1H1422.8L1417.1 467.3Z"/><path d="M1418.3 480.0H1429.8L1424.0 470.2Z"/><path d="M1452.9 477.7H1464.3L1458.6 467.9Z"/><path d="M1495.5 478.3H1506.9L1501.2 468.5Z"/><path d="M1515.1 476.6H1526.5L1520.8 466.8Z"/><path d="M1336.0 473.7H1347.4L1341.7 463.9Z"/><path d="M1344.7 484.6H1356.1L1350.4 474.8Z"/><path d="M1341.2 490.4H1352.6L1346.9 480.6Z"/><path d="M1382.1 488.1H1393.5L1387.8 478.3Z"/><path d="M1387.3 485.2H1398.7L1393.0 475.4Z"/><path d="M1403.4 484.0H1414.8L1409.1 474.2Z"/><path d="M1417.2 482.9H1428.6L1422.9 473.1Z"/><path d="M1426.4 487.5H1437.8L1432.1 477.7Z"/><path d="M1435.6 486.3H1447.0L1441.3 476.6Z"/><path d="M1467.9 484.0H1479.3L1473.6 474.2Z"/><path d="M1473.6 488.1H1485.0L1479.3 478.3Z"/><path d="M1503.0 484.0H1514.4L1508.7 474.2Z"/><path d="M1509.9 486.3H1521.3L1515.6 476.6Z"/><path d="M1361.9 493.3H1373.3L1367.6 483.5Z"/><path d="M1364.2 496.1H1375.6L1369.9 486.3Z"/><path d="M1395.9 494.4H1407.3L1401.6 484.6Z"/><path d="M1405.7 491.5H1417.1L1411.4 481.7Z"/><path d="M1427.6 494.4H1439.0L1433.3 484.6Z"/><path d="M1442.0 493.3H1453.4L1447.7 483.5Z"/><path d="M1452.9 492.1H1464.3L1458.6 482.3Z"/><path d="M1471.9 492.1H1483.3L1477.6 482.3Z"/><path d="M1341.2 501.3H1352.6L1346.9 491.5Z"/><path d="M1349.3 504.8H1360.7L1355.0 495.0Z"/><path d="M1381.5 502.5H1392.9L1387.2 492.7Z"/><path d="M1386.1 499.6H1397.5L1391.8 489.8Z"/><path d="M1390.7 500.2H1402.1L1396.4 490.4Z"/><path d="M1444.8 508.8H1456.2L1450.5 499.0Z"/><path d="M1451.7 507.6H1463.1L1457.4 497.9Z"/><path d="M1471.3 503.0H1482.7L1477.0 493.2Z"/><path d="M1504.1 503.6H1515.5L1509.8 493.8Z"/><path d="M1515.6 508.2H1527.0L1521.3 498.4Z"/><path d="M1490.9 508.2H1502.3L1496.6 498.4Z"/><path d="M1427.6 509.4H1439.0L1433.3 499.6Z"/><path d="M1462.1 511.7H1473.5L1467.8 501.9Z"/><path d="M1473.6 509.9H1485.0L1479.3 500.2Z"/><path d="M1375.8 503.6H1387.2L1381.5 493.8Z"/><path d="M1448.3 504.8H1459.7L1454.0 495.0Z"/><path d="M1412.6 511.7H1424.0L1418.3 501.9Z"/><path d="M1409.1 515.1H1420.5L1414.8 505.3Z"/><path d="M1404.5 514.0H1415.9L1410.2 504.2Z"/><path d="M1374.0 521.5H1385.4L1379.7 511.7Z"/><path d="M1386.1 519.7H1397.5L1391.8 509.9Z"/><path d="M1391.9 519.2H1403.3L1397.6 509.4Z"/><path d="M1402.8 516.3H1414.2L1408.5 506.5Z"/><path d="M1412.6 518.6H1424.0L1418.3 508.8Z"/><path d="M1421.8 520.9H1433.2L1427.5 511.1Z"/><path d="M1441.4 519.7H1452.8L1447.1 509.9Z"/><path d="M1450.6 519.7H1462.0L1456.3 509.9Z"/><path d="M1455.2 519.7H1466.6L1460.9 509.9Z"/><path d="M1462.1 515.1H1473.5L1467.8 505.3Z"/><path d="M1479.4 520.3H1490.8L1485.1 510.5Z"/><path d="M1503.0 520.9H1514.4L1508.7 511.1Z"/><path d="M1532.3 519.7H1543.7L1538.0 509.9Z"/><path d="M1513.3 514.0H1524.7L1519.0 504.2Z"/><path d="M1346.4 526.6H1357.8L1352.1 516.9Z"/><path d="M1349.3 530.1H1360.7L1355.0 520.3Z"/><path d="M1397.6 526.1H1409.0L1403.3 516.3Z"/><path d="M1401.1 526.6H1412.5L1406.8 516.9Z"/><path d="M1389.6 531.8H1401.0L1395.3 522.0Z"/><path d="M1409.1 533.0H1420.5L1414.8 523.2Z"/><path d="M1437.9 524.4H1449.3L1443.6 514.6Z"/><path d="M1444.8 530.7H1456.2L1450.5 520.9Z"/><path d="M1457.5 528.9H1468.9L1463.2 519.1Z"/><path d="M1519.7 526.6H1531.1L1525.4 516.9Z"/><path d="M1358.5 538.7H1369.9L1364.2 528.9Z"/><path d="M1363.1 534.1H1374.5L1368.8 524.3Z"/><path d="M1382.1 537.6H1393.5L1387.8 527.8Z"/><path d="M1424.7 538.7H1436.1L1430.4 528.9Z"/><path d="M1431.6 537.6H1443.0L1437.3 527.8Z"/><path d="M1439.6 540.5H1451.0L1445.3 530.7Z"/><path d="M1454.0 537.0H1465.5L1459.8 527.2Z"/><path d="M1452.9 543.4H1464.3L1458.6 533.6Z"/><path d="M1504.1 541.6H1515.5L1509.8 531.8Z"/><path d="M1531.8 542.8H1543.2L1537.5 533.0Z"/><path d="M1336.0 540.5H1347.4L1341.7 530.7Z"/><path d="M1472.5 545.6H1483.9L1478.2 535.9Z"/><path d="M1375.8 553.7H1387.2L1381.5 543.9Z"/><path d="M1403.4 559.5H1414.8L1409.1 549.7Z"/><path d="M1406.3 558.9H1417.7L1412.0 549.1Z"/><path d="M1421.8 550.8H1433.2L1427.5 541.0Z"/><path d="M1421.8 556.0H1433.2L1427.5 546.2Z"/><path d="M1435.6 552.6H1447.0L1441.3 542.8Z"/><path d="M1458.1 550.2H1469.5L1463.8 540.5Z"/><path d="M1463.3 549.1H1474.7L1469.0 539.3Z"/><path d="M1466.1 555.4H1477.5L1471.8 545.6Z"/><path d="M1477.1 549.7H1488.5L1482.8 539.9Z"/><path d="M1522.6 552.6H1534.0L1528.3 542.8Z"/><path d="M1524.3 555.4H1535.7L1530.0 545.6Z"/><path d="M1522.6 558.3H1534.0L1528.3 548.5Z"/><path d="M1437.3 563.5H1448.8L1443.0 553.7Z"/><path d="M1340.3 569.2H1351.7L1346.0 559.5Z"/><path d="M1359.6 573.9H1371.0L1365.3 564.1Z"/><path d="M1366.5 579.6H1377.9L1372.2 569.8Z"/><path d="M1367.1 582.5H1378.5L1372.8 572.7Z"/><path d="M1432.2 573.3H1443.6L1437.9 563.5Z"/><path d="M1467.9 573.3H1479.3L1473.6 563.5Z"/><path d="M1343.5 584.8H1354.9L1349.2 575.0Z"/><path d="M1375.2 590.5H1386.6L1380.9 580.8Z"/><path d="M1344.1 592.9H1355.5L1349.8 583.1Z"/><path d="M1410.3 594.6H1421.7L1416.0 584.8Z"/><path d="M1417.2 594.6H1428.6L1422.9 584.8Z"/><path d="M1546.6 502.9H1558.0L1552.3 493.1Z"/><path d="M1572.8 528.8H1584.2L1578.5 519.0Z"/><path d="M1584.2 536.9H1595.6L1589.9 527.1Z"/><path d="M1568.8 574.7H1580.2L1574.5 564.9Z"/><path d="M1314.5 616.2H1325.9L1320.2 606.4Z"/><path d="M1311.3 632.3H1322.7L1317.0 622.5Z"/><path d="M1441.4 598.9H1452.8L1447.1 589.1Z"/><path d="M1433.9 603.0H1445.3L1439.6 593.2Z"/><path d="M1488.2 600.7H1499.6L1493.9 590.9Z"/><path d="M1345.8 606.4H1357.2L1351.5 596.6Z"/><path d="M1337.8 606.4H1349.2L1343.5 596.6Z"/><path d="M1401.1 606.4H1412.5L1406.8 596.6Z"/><path d="M1417.8 610.4H1429.2L1423.5 600.6Z"/><path d="M1342.6 618.5H1354.0L1348.3 608.7Z"/><path d="M1398.0 619.7H1409.4L1403.7 609.9Z"/><path d="M1372.9 631.5H1384.3L1378.6 621.7Z"/><path d="M1403.4 628.9H1414.8L1409.1 619.1Z"/><path d="M1431.6 627.7H1443.0L1437.3 617.9Z"/><path d="M1465.6 631.8H1477.0L1471.3 622.0Z"/><path d="M1373.1 639.8H1384.5L1378.8 630.0Z"/><path d="M1462.3 639.8H1473.7L1468.0 630.0Z"/><path d="M1522.0 635.2H1533.4L1527.7 625.4Z"/><path d="M1338.6 645.6H1350.0L1344.3 635.8Z"/><path d="M1339.8 661.4H1351.2L1345.5 651.6Z"/></g>
<line x1="1085.45" y1="508.94" x2="1736.5" y2="508.94" stroke="#000" stroke-width="3.4"/>
<line x1="1084.85" y1="395.28" x2="1736.5" y2="395.28" stroke="#000" stroke-width="3.4" stroke-dasharray="13.8 13.37"/>
<line x1="1084.85" y1="622.61" x2="1736.5" y2="622.61" stroke="#000" stroke-width="3.4" stroke-dasharray="13.8 13.37"/>
<line x1="1161" y1="529.5" x2="1590" y2="480.3" stroke="#000" stroke-width="6.4"/>
</g>
<line x1="1115.04" y1="848.70" x2="1115.04" y2="857.60" stroke="#333" stroke-width="3"/>
<text transform="translate(1115.04,884.90)" x="-15.85" font-size="28.5" fill="#4D4D4D">10</text>
<line x1="1263.00" y1="848.70" x2="1263.00" y2="857.60" stroke="#333" stroke-width="3"/>
<text transform="translate(1263.00,884.90)" x="-15.85" font-size="28.5" fill="#4D4D4D">20</text>
<line x1="1410.96" y1="848.70" x2="1410.96" y2="857.60" stroke="#333" stroke-width="3"/>
<text transform="translate(1410.96,884.90)" x="-15.85" font-size="28.5" fill="#4D4D4D">30</text>
<line x1="1558.92" y1="848.70" x2="1558.92" y2="857.60" stroke="#333" stroke-width="3"/>
<text transform="translate(1558.92,884.90)" x="-15.85" font-size="28.5" fill="#4D4D4D">40</text>
<line x1="1706.88" y1="848.70" x2="1706.88" y2="857.60" stroke="#333" stroke-width="3"/>
<text transform="translate(1706.88,884.90)" x="-15.85" font-size="28.5" fill="#4D4D4D">50</text>
<line x1="1076.55" y1="227.15" x2="1085.45" y2="227.15" stroke="#333" stroke-width="3"/>
<text transform="translate(1069.35,237.25)" x="-31.70" font-size="28.5" fill="#4D4D4D">10</text>
<line x1="1076.55" y1="375.15" x2="1085.45" y2="375.15" stroke="#333" stroke-width="3"/>
<text transform="translate(1069.35,385.25)" x="-15.85" font-size="28.5" fill="#4D4D4D">5</text>
<line x1="1076.55" y1="523.15" x2="1085.45" y2="523.15" stroke="#333" stroke-width="3"/>
<text transform="translate(1069.35,533.25)" x="-15.85" font-size="28.5" fill="#4D4D4D">0</text>
<line x1="1076.55" y1="671.15" x2="1085.45" y2="671.15" stroke="#333" stroke-width="3"/>
<text transform="translate(1069.35,681.25)" x="-32.49" font-size="28.5" fill="#4D4D4D">−5</text>
<line x1="1076.55" y1="819.15" x2="1085.45" y2="819.15" stroke="#333" stroke-width="3"/>
<text transform="translate(1069.35,829.25)" x="-48.34" font-size="28.5" fill="#4D4D4D">−10</text>
<line x1="1085.45" y1="197.55" x2="1085.45" y2="848.70" stroke="#000" stroke-width="3.3"/>
<line x1="1085.45" y1="848.70" x2="1736.50" y2="848.70" stroke="#000" stroke-width="3.3"/>
<text transform="translate(1410.97,925.20)" x="-130.54" font-size="34.8">Average SM (kg)</text>
<text transform="translate(1004.80,523.15) rotate(-90)" x="-145.04" font-size="34.8">SM Difference (kg)</text>
<text transform="translate(6.80,172.00)" x="0.00" font-size="47" font-weight="bold">A</text>
<text transform="translate(923.70,172.00)" x="0.00" font-size="47" font-weight="bold">B</text>
<text transform="translate(165.10,298.90)" x="0.00" font-size="34.6">y =  0.09 + 1.02 *x</text>
<text transform="translate(189.20,343.50)" x="0.00" font-size="34.6">RMSE: 2.01 kg</text>
<text transform="translate(1402.10,243.80)" x="0.00" font-size="34.6">y =  −0.98 + 0.06 *x</text>
<text transform="translate(1406.10,295.00)" x="0.00" font-size="34.6">95% LOA:</text>
<text transform="translate(1575.20,295.00)" x="0.00" font-size="34.6">±</text>
<text transform="translate(1595.41,295.00)" x="0.00" font-size="34.6"> 3.84 kg</text>
<text transform="translate(240.90,393.00)" x="0.00" font-size="34.6">R</text>
<text transform="translate(265.70,375.10)" x="0.00" font-size="24.2">2</text>
<text transform="translate(285.60,393.00)" x="0.00" font-size="34.6" font-weight="bold">:</text>
<text transform="translate(303.00,393.00)" x="0.00" font-size="34.6">0.92</text>
<clipPath id="cA1"><rect x="90.5" y="1113.25" width="791.6" height="651.1500000000001"/></clipPath>
<clipPath id="cB1"><rect x="1085.45" y="1113.25" width="651.05" height="651.1500000000001"/></clipPath>
<g clip-path="url(#cA1)">
<g fill="#333333"><circle cx="277.6" cy="1589.8" r="4.0"/><circle cx="277.6" cy="1598.4" r="4.0"/><circle cx="259.2" cy="1602.8" r="4.0"/><circle cx="271.3" cy="1606.5" r="4.0"/><circle cx="282.8" cy="1601.9" r="4.0"/><circle cx="290.8" cy="1591.5" r="4.0"/><circle cx="288.5" cy="1596.1" r="4.0"/><circle cx="298.3" cy="1585.8" r="4.0"/><circle cx="296.6" cy="1580.6" r="4.0"/><circle cx="304.6" cy="1582.3" r="4.0"/><circle cx="308.1" cy="1596.1" r="4.0"/><circle cx="316.2" cy="1591.5" r="4.0"/><circle cx="319.6" cy="1585.8" r="4.0"/><circle cx="326.5" cy="1584.6" r="4.0"/><circle cx="331.1" cy="1592.7" r="4.0"/><circle cx="335.7" cy="1588.1" r="4.0"/><circle cx="338.0" cy="1604.8" r="4.0"/><circle cx="324.2" cy="1602.5" r="4.0"/><circle cx="313.9" cy="1605.3" r="4.0"/><circle cx="315.0" cy="1608.8" r="4.0"/><circle cx="310.4" cy="1607.6" r="4.0"/><circle cx="297.7" cy="1606.5" r="4.0"/><circle cx="287.4" cy="1607.6" r="4.0"/><circle cx="298.9" cy="1600.7" r="4.0"/><circle cx="247.7" cy="1611.7" r="4.0"/><circle cx="253.4" cy="1614.5" r="4.0"/><circle cx="251.7" cy="1619.2" r="4.0"/><circle cx="256.3" cy="1619.2" r="4.0"/><circle cx="239.9" cy="1620.1" r="4.0"/><circle cx="243.1" cy="1628.4" r="4.0"/><circle cx="226.4" cy="1627.4" r="4.0"/><circle cx="218.3" cy="1637.0" r="4.0"/><circle cx="222.9" cy="1639.9" r="4.0"/><circle cx="216.0" cy="1645.6" r="4.0"/><circle cx="220.6" cy="1644.5" r="4.0"/><circle cx="202.8" cy="1643.3" r="4.0"/><circle cx="206.8" cy="1649.1" r="4.0"/><circle cx="209.1" cy="1653.7" r="4.0"/><circle cx="204.5" cy="1656.0" r="4.0"/><circle cx="199.9" cy="1658.3" r="4.0"/><circle cx="191.2" cy="1657.1" r="4.0"/><circle cx="195.3" cy="1660.6" r="4.0"/><circle cx="186.1" cy="1662.9" r="4.0"/><circle cx="266.7" cy="1614.5" r="4.0"/><circle cx="282.8" cy="1616.8" r="4.0"/><circle cx="283.9" cy="1621.5" r="4.0"/><circle cx="280.5" cy="1628.4" r="4.0"/><circle cx="288.5" cy="1630.7" r="4.0"/><circle cx="298.9" cy="1624.9" r="4.0"/><circle cx="310.4" cy="1619.2" r="4.0"/><circle cx="324.2" cy="1624.3" r="4.0"/><circle cx="271.3" cy="1627.2" r="4.0"/><circle cx="265.5" cy="1630.7" r="4.0"/><circle cx="259.8" cy="1634.1" r="4.0"/><circle cx="255.1" cy="1639.9" r="4.0"/><circle cx="252.8" cy="1643.9" r="4.0"/><circle cx="258.6" cy="1642.2" r="4.0"/><circle cx="262.1" cy="1644.5" r="4.0"/><circle cx="266.7" cy="1639.9" r="4.0"/><circle cx="258.6" cy="1649.1" r="4.0"/><circle cx="274.7" cy="1635.8" r="4.0"/><circle cx="241.3" cy="1648.5" r="4.0"/><circle cx="240.2" cy="1651.4" r="4.0"/><circle cx="232.7" cy="1660.6" r="4.0"/><circle cx="167.1" cy="1675.9" r="4.0"/><circle cx="180.3" cy="1673.6" r="4.0"/><circle cx="173.4" cy="1684.8" r="4.0"/><circle cx="176.8" cy="1692.8" r="4.0"/><circle cx="209.1" cy="1679.0" r="4.0"/><circle cx="219.4" cy="1680.8" r="4.0"/><circle cx="234.4" cy="1680.8" r="4.0"/><circle cx="189.7" cy="1698.8" r="4.0"/><circle cx="156.1" cy="1700.3" r="4.0"/><circle cx="213.7" cy="1651.4" r="4.0"/><circle cx="227.5" cy="1635.3" r="4.0"/><circle cx="232.1" cy="1641.0" r="4.0"/><circle cx="226.4" cy="1644.5" r="4.0"/><circle cx="278.2" cy="1623.8" r="4.0"/><circle cx="310.4" cy="1586.9" r="4.0"/><circle cx="319.6" cy="1590.4" r="4.0"/><circle cx="324.2" cy="1592.7" r="4.0"/><circle cx="328.8" cy="1586.9" r="4.0"/><circle cx="335.7" cy="1582.3" r="4.0"/><circle cx="338.0" cy="1593.8" r="4.0"/><circle cx="330.0" cy="1597.3" r="4.0"/><circle cx="319.6" cy="1598.4" r="4.0"/><circle cx="304.6" cy="1589.2" r="4.0"/><circle cx="293.1" cy="1595.0" r="4.0"/><circle cx="299.5" cy="1531.9" r="4.0"/><circle cx="330.6" cy="1541.5" r="4.0"/><circle cx="313.9" cy="1560.1" r="4.0"/><circle cx="319.0" cy="1567.0" r="4.0"/><circle cx="330.0" cy="1563.0" r="4.0"/><circle cx="306.9" cy="1568.2" r="4.0"/><circle cx="312.7" cy="1570.5" r="4.0"/><circle cx="274.1" cy="1574.5" r="4.0"/><circle cx="281.1" cy="1571.6" r="4.0"/><circle cx="292.6" cy="1576.2" r="4.0"/><circle cx="300.6" cy="1575.7" r="4.0"/><circle cx="335.7" cy="1577.4" r="4.0"/><circle cx="425.2" cy="1468.6" r="4.0"/><circle cx="422.3" cy="1481.8" r="4.0"/><circle cx="432.7" cy="1487.0" r="4.0"/><circle cx="403.9" cy="1499.7" r="4.0"/><circle cx="377.4" cy="1502.0" r="4.0"/><circle cx="347.5" cy="1522.3" r="4.0"/><circle cx="374.0" cy="1529.6" r="4.0"/><circle cx="407.9" cy="1512.9" r="4.0"/><circle cx="426.9" cy="1514.0" r="4.0"/><circle cx="395.3" cy="1533.6" r="4.0"/><circle cx="403.3" cy="1540.0" r="4.0"/><circle cx="356.1" cy="1540.5" r="4.0"/><circle cx="383.8" cy="1537.7" r="4.0"/><circle cx="382.6" cy="1544.6" r="4.0"/><circle cx="395.8" cy="1542.3" r="4.0"/><circle cx="397.0" cy="1547.4" r="4.0"/><circle cx="371.1" cy="1549.2" r="4.0"/><circle cx="361.9" cy="1552.6" r="4.0"/><circle cx="381.4" cy="1557.8" r="4.0"/><circle cx="384.3" cy="1560.1" r="4.0"/><circle cx="358.4" cy="1561.3" r="4.0"/><circle cx="364.2" cy="1564.7" r="4.0"/><circle cx="369.9" cy="1569.3" r="4.0"/><circle cx="383.8" cy="1574.8" r="4.0"/><circle cx="346.9" cy="1568.2" r="4.0"/><circle cx="351.5" cy="1573.3" r="4.0"/><circle cx="344.6" cy="1577.4" r="4.0"/><circle cx="470.1" cy="1473.2" r="4.0"/><circle cx="497.7" cy="1481.2" r="4.0"/><circle cx="505.8" cy="1457.6" r="4.0"/><circle cx="502.4" cy="1431.2" r="4.0"/><circle cx="512.7" cy="1430.6" r="4.0"/><circle cx="344.6" cy="1584.6" r="4.0"/><circle cx="498.9" cy="1418.7" r="4.0"/></g>
<g fill="#999999"><path d="M271.9 1588.9H283.3L277.6 1579.1Z"/><path d="M293.2 1591.8H304.6L298.9 1582.0Z"/><path d="M224.7 1639.6H236.1L230.4 1629.8Z"/><path d="M312.2 1567.3H323.6L317.9 1557.5Z"/><path d="M317.4 1571.9H328.8L323.1 1562.1Z"/><path d="M421.2 1452.2H432.6L426.9 1442.4Z"/><path d="M443.7 1452.2H455.1L449.4 1442.4Z"/><path d="M465.0 1440.7H476.4L470.7 1430.9Z"/><path d="M470.2 1446.4H481.6L475.9 1436.6Z"/><path d="M459.2 1449.9H470.6L464.9 1440.1Z"/><path d="M462.1 1455.1H473.5L467.8 1445.2Z"/><path d="M465.6 1457.9H477.0L471.3 1448.1Z"/><path d="M478.2 1452.2H489.6L483.9 1442.4Z"/><path d="M484.6 1447.6H496.0L490.3 1437.8Z"/><path d="M479.4 1435.5H490.8L485.1 1425.7Z"/><path d="M501.2 1436.6H512.6L506.9 1426.8Z"/><path d="M512.8 1443.5H524.2L518.5 1433.7Z"/><path d="M524.3 1445.3H535.7L530.0 1435.5Z"/><path d="M508.2 1449.3H519.6L513.9 1439.5Z"/><path d="M498.9 1454.5H510.3L504.6 1444.7Z"/><path d="M500.1 1459.1H511.5L505.8 1449.3Z"/><path d="M493.2 1464.8H504.6L498.9 1455.0Z"/><path d="M438.9 1467.7H450.2L444.6 1457.9Z"/><path d="M456.4 1470.0H467.8L462.1 1460.2Z"/><path d="M455.8 1465.4H467.2L461.5 1455.6Z"/><path d="M433.3 1477.5H444.7L439.0 1467.7Z"/><path d="M445.4 1481.5H456.8L451.1 1471.7Z"/><path d="M466.7 1474.1H478.1L472.4 1464.2Z"/><path d="M475.7 1477.5H487.1L481.4 1467.7Z"/><path d="M490.9 1482.1H502.3L496.6 1472.3Z"/><path d="M478.2 1496.5H489.6L483.9 1486.7Z"/><path d="M398.8 1481.5H410.2L404.5 1471.7Z"/><path d="M421.8 1486.1H433.2L427.5 1476.3Z"/><path d="M408.6 1498.2H420.0L414.3 1488.4Z"/><path d="M414.9 1502.8H426.3L420.6 1493.0Z"/><path d="M423.5 1509.7H434.9L429.2 1499.9Z"/><path d="M364.8 1516.7H376.2L370.5 1506.8Z"/><path d="M354.4 1532.2H365.8L360.1 1522.4Z"/><path d="M408.0 1523.0H419.4L413.7 1513.2Z"/><path d="M402.2 1524.7H413.6L407.9 1514.9Z"/><path d="M437.4 1523.0H448.8L443.1 1513.2Z"/><path d="M433.9 1528.2H445.3L439.6 1518.4Z"/><path d="M396.5 1536.8H407.9L402.2 1527.0Z"/><path d="M338.9 1554.7H350.3L344.6 1544.8Z"/><path d="M533.5 1453.3H544.9L539.2 1443.5Z"/><path d="M707.6 1267.7H719.0L713.3 1257.9Z"/><path d="M614.5 1318.4H626.0L620.2 1308.6Z"/><path d="M695.8 1322.1H707.2L701.5 1312.3Z"/><path d="M644.3 1327.6H655.7L650.0 1317.8Z"/><path d="M669.0 1334.5H680.4L674.7 1324.7Z"/><path d="M606.8 1340.2H618.2L612.5 1330.4Z"/><path d="M611.7 1347.7H623.1L617.4 1337.9Z"/><path d="M625.3 1350.6H636.7L631.0 1340.8Z"/><path d="M632.2 1352.3H643.6L637.9 1342.5Z"/><path d="M635.6 1344.3H647.0L641.3 1334.5Z"/><path d="M690.9 1358.5H702.3L696.6 1348.6Z"/><path d="M577.5 1359.2H588.9L583.2 1349.4Z"/><path d="M598.2 1364.4H609.6L603.9 1354.6Z"/><path d="M545.8 1375.4H557.2L551.5 1365.6Z"/><path d="M629.9 1373.1H641.3L635.6 1363.3Z"/><path d="M574.0 1379.4H585.4L579.7 1369.6Z"/><path d="M576.9 1382.3H588.3L582.6 1372.5Z"/><path d="M584.4 1378.2H595.8L590.1 1368.4Z"/><path d="M560.8 1385.2H572.2L566.5 1375.4Z"/><path d="M561.9 1389.2H573.3L567.6 1379.4Z"/><path d="M544.1 1390.3H555.5L549.8 1380.5Z"/><path d="M627.8 1382.9H639.2L633.5 1373.1Z"/><path d="M611.7 1391.5H623.1L617.4 1381.7Z"/><path d="M583.2 1393.8H594.6L588.9 1384.0Z"/><path d="M592.8 1396.7H604.2L598.5 1386.9Z"/><path d="M534.9 1396.1H546.3L540.6 1386.3Z"/><path d="M575.2 1400.7H586.6L580.9 1390.9Z"/><path d="M575.8 1404.2H587.2L581.5 1394.4Z"/><path d="M547.5 1407.6H558.9L553.2 1397.8Z"/><path d="M562.5 1409.9H573.9L568.2 1400.1Z"/><path d="M568.3 1422.0H579.7L574.0 1412.2Z"/><path d="M553.3 1430.1H564.7L559.0 1420.3Z"/><path d="M534.9 1427.2H546.3L540.6 1417.4Z"/><path d="M551.6 1443.0H563.0L557.3 1433.2Z"/><path d="M742.9 1250.8H754.3L748.6 1241.0Z"/><path d="M756.8 1250.5H768.2L762.5 1240.7Z"/><path d="M736.8 1265.7H748.2L742.5 1255.9Z"/><path d="M769.6 1273.0H781.0L775.3 1263.1Z"/><path d="M475.4 1403.5H486.8L481.1 1393.7Z"/><path d="M520.8 1398.9H532.2L526.5 1389.1Z"/><path d="M497.2 1413.9H508.6L502.9 1404.1Z"/><path d="M504.7 1421.9H516.1L510.4 1412.1Z"/><path d="M511.0 1424.2H522.4L516.7 1414.4Z"/><path d="M481.7 1431.7H493.1L487.4 1421.9Z"/><path d="M418.1 1428.8H429.5L423.8 1419.0Z"/></g>
<line x1="90.50" y1="1764.40" x2="882.06" y2="1113.20" stroke="#000" stroke-width="3.3"/>
<line x1="156.8" y1="1700.3" x2="775.3" y2="1242.5" stroke="#000" stroke-width="6.5"/>
</g>
<line x1="126.48" y1="1764.40" x2="126.48" y2="1773.30" stroke="#333" stroke-width="3"/>
<text transform="translate(126.48,1800.60) scale(0.715,1.0)" x="-22.17 0.00" font-size="28.5" fill="#4D4D4D" stroke="#4D4D4D" stroke-width="0.7">10</text>
<line x1="306.38" y1="1764.40" x2="306.38" y2="1773.30" stroke="#333" stroke-width="3"/>
<text transform="translate(306.38,1800.60) scale(0.715,1.0)" x="-22.17 0.00" font-size="28.5" fill="#4D4D4D" stroke="#4D4D4D" stroke-width="0.7">20</text>
<line x1="486.28" y1="1764.40" x2="486.28" y2="1773.30" stroke="#333" stroke-width="3"/>
<text transform="translate(486.28,1800.60) scale(0.715,1.0)" x="-22.17 0.00" font-size="28.5" fill="#4D4D4D" stroke="#4D4D4D" stroke-width="0.7">30</text>
<line x1="666.18" y1="1764.40" x2="666.18" y2="1773.30" stroke="#333" stroke-width="3"/>
<text transform="translate(666.18,1800.60) scale(0.715,1.0)" x="-22.17 0.00" font-size="28.5" fill="#4D4D4D" stroke="#4D4D4D" stroke-width="0.7">40</text>
<line x1="846.08" y1="1764.40" x2="846.08" y2="1773.30" stroke="#333" stroke-width="3"/>
<text transform="translate(846.08,1800.60) scale(0.715,1.0)" x="-22.17 0.00" font-size="28.5" fill="#4D4D4D" stroke="#4D4D4D" stroke-width="0.7">50</text>
<line x1="81.60" y1="1734.80" x2="90.50" y2="1734.80" stroke="#333" stroke-width="3"/>
<text transform="translate(74.40,1744.90) scale(0.715,1.0)" x="-44.34 -22.17" font-size="28.5" fill="#4D4D4D" stroke="#4D4D4D" stroke-width="0.7">10</text>
<line x1="81.60" y1="1586.80" x2="90.50" y2="1586.80" stroke="#333" stroke-width="3"/>
<text transform="translate(74.40,1596.90) scale(0.715,1.0)" x="-44.34 -22.17" font-size="28.5" fill="#4D4D4D" stroke="#4D4D4D" stroke-width="0.7">20</text>
<line x1="81.60" y1="1438.80" x2="90.50" y2="1438.80" stroke="#333" stroke-width="3"/>
<text transform="translate(74.40,1448.90) scale(0.715,1.0)" x="-44.34 -22.17" font-size="28.5" fill="#4D4D4D" stroke="#4D4D4D" stroke-width="0.7">30</text>
<line x1="81.60" y1="1290.80" x2="90.50" y2="1290.80" stroke="#333" stroke-width="3"/>
<text transform="translate(74.40,1300.90) scale(0.715,1.0)" x="-44.34 -22.17" font-size="28.5" fill="#4D4D4D" stroke="#4D4D4D" stroke-width="0.7">40</text>
<line x1="81.60" y1="1142.80" x2="90.50" y2="1142.80" stroke="#333" stroke-width="3"/>
<text transform="translate(74.40,1152.90) scale(0.715,1.0)" x="-44.34 -22.17" font-size="28.5" fill="#4D4D4D" stroke="#4D4D4D" stroke-width="0.7">50</text>
<line x1="90.50" y1="1113.25" x2="90.50" y2="1764.40" stroke="#000" stroke-width="3.3"/>
<line x1="90.50" y1="1764.40" x2="882.10" y2="1764.40" stroke="#000" stroke-width="3.3"/>
<text transform="translate(486.30,1840.90) scale(0.715,1.0)" x="-270.46 -229.92 -194.77 -181.25 -167.72 -135.26 -110.92 -83.86 -73.04 -45.97 -32.45 -5.38 5.43 18.95 59.50 86.57 110.90 135.24 146.05 173.12 186.64 202.85 227.18 254.25" font-size="34.8" stroke="#000" stroke-width="0.7">MRI Skeletal Muscle (kg)</text>
<text transform="translate(26.60,1438.85) rotate(-90) scale(0.715,1.0)" x="-328.66 -296.20 -279.99 -252.92 -225.85 -215.04 -190.70 -177.18 -150.11 -123.04 -109.52 -77.06 -52.72 -25.65 -14.84 12.23 25.75 52.82 63.63 77.15 117.70 144.77 169.10 193.44 204.25 231.32 244.84 261.05 285.39 312.45" font-size="34.8" stroke="#000" stroke-width="0.7">Predicted Skeletal Muscle (kg)</text>
<g clip-path="url(#cB1)">
<g fill="#333333"><circle cx="1287.4" cy="1317.8" r="4.0"/><circle cx="1255.7" cy="1361.9" r="4.0"/><circle cx="1259.8" cy="1367.7" r="4.0"/><circle cx="1311.8" cy="1377.7" r="4.0"/><circle cx="1295.4" cy="1388.0" r="4.0"/><circle cx="1334.6" cy="1386.1" r="4.0"/><circle cx="1160.7" cy="1388.4" r="4.0"/><circle cx="1191.8" cy="1382.6" r="4.0"/><circle cx="1174.5" cy="1391.3" r="4.0"/><circle cx="1180.3" cy="1391.8" r="4.0"/><circle cx="1175.7" cy="1395.9" r="4.0"/><circle cx="1190.7" cy="1395.6" r="4.0"/><circle cx="1201.3" cy="1396.4" r="4.0"/><circle cx="1209.7" cy="1389.8" r="4.0"/><circle cx="1218.9" cy="1396.8" r="4.0"/><circle cx="1226.1" cy="1393.0" r="4.0"/><circle cx="1235.3" cy="1393.2" r="4.0"/><circle cx="1250.0" cy="1397.8" r="4.0"/><circle cx="1262.0" cy="1395.6" r="4.0"/><circle cx="1279.7" cy="1398.5" r="4.0"/><circle cx="1272.4" cy="1403.1" r="4.0"/><circle cx="1263.8" cy="1405.3" r="4.0"/><circle cx="1266.7" cy="1408.0" r="4.0"/><circle cx="1167.6" cy="1405.3" r="4.0"/><circle cx="1180.9" cy="1402.2" r="4.0"/><circle cx="1227.5" cy="1406.2" r="4.0"/><circle cx="1196.4" cy="1408.5" r="4.0"/><circle cx="1188.4" cy="1409.7" r="4.0"/><circle cx="1205.6" cy="1406.8" r="4.0"/><circle cx="1370.9" cy="1398.2" r="4.0"/><circle cx="1144.6" cy="1419.0" r="4.0"/><circle cx="1159.0" cy="1418.4" r="4.0"/><circle cx="1182.6" cy="1414.0" r="4.0"/><circle cx="1202.8" cy="1422.1" r="4.0"/><circle cx="1202.2" cy="1427.3" r="4.0"/><circle cx="1191.8" cy="1425.5" r="4.0"/><circle cx="1188.4" cy="1429.0" r="4.0"/><circle cx="1176.8" cy="1427.8" r="4.0"/><circle cx="1202.8" cy="1430.7" r="4.0"/><circle cx="1216.0" cy="1418.6" r="4.0"/><circle cx="1224.6" cy="1416.0" r="4.0"/><circle cx="1244.8" cy="1415.2" r="4.0"/><circle cx="1238.5" cy="1420.9" r="4.0"/><circle cx="1253.4" cy="1420.9" r="4.0"/><circle cx="1273.6" cy="1416.3" r="4.0"/><circle cx="1278.7" cy="1420.4" r="4.0"/><circle cx="1156.7" cy="1436.5" r="4.0"/><circle cx="1225.8" cy="1429.8" r="4.0"/><circle cx="1237.9" cy="1428.4" r="4.0"/><circle cx="1258.6" cy="1427.8" r="4.0"/><circle cx="1250.5" cy="1427.8" r="4.0"/><circle cx="1244.2" cy="1435.9" r="4.0"/><circle cx="1252.8" cy="1435.3" r="4.0"/><circle cx="1233.8" cy="1436.5" r="4.0"/><circle cx="1284.5" cy="1433.0" r="4.0"/><circle cx="1305.8" cy="1428.4" r="4.0"/><circle cx="1319.0" cy="1438.8" r="4.0"/><circle cx="1266.7" cy="1438.8" r="4.0"/><circle cx="1271.3" cy="1437.6" r="4.0"/><circle cx="1262.0" cy="1441.1" r="4.0"/><circle cx="1289.7" cy="1445.1" r="4.0"/><circle cx="1295.4" cy="1444.5" r="4.0"/><circle cx="1238.5" cy="1446.8" r="4.0"/><circle cx="1244.8" cy="1447.4" r="4.0"/><circle cx="1205.6" cy="1448.0" r="4.0"/><circle cx="1228.1" cy="1450.5" r="4.0"/><circle cx="1316.2" cy="1449.7" r="4.0"/><circle cx="1302.3" cy="1450.3" r="4.0"/><circle cx="1252.8" cy="1452.0" r="4.0"/><circle cx="1257.4" cy="1453.8" r="4.0"/><circle cx="1267.8" cy="1457.2" r="4.0"/><circle cx="1271.3" cy="1459.5" r="4.0"/><circle cx="1204.5" cy="1458.4" r="4.0"/><circle cx="1214.8" cy="1458.4" r="4.0"/><circle cx="1220.6" cy="1458.4" r="4.0"/><circle cx="1224.0" cy="1461.8" r="4.0"/><circle cx="1238.5" cy="1457.2" r="4.0"/><circle cx="1258.0" cy="1459.5" r="4.0"/><circle cx="1249.4" cy="1463.0" r="4.0"/><circle cx="1301.2" cy="1456.6" r="4.0"/><circle cx="1176.8" cy="1463.5" r="4.0"/><circle cx="1195.3" cy="1465.5" r="4.0"/><circle cx="1159.0" cy="1471.0" r="4.0"/><circle cx="1213.7" cy="1467.8" r="4.0"/><circle cx="1221.8" cy="1466.4" r="4.0"/><circle cx="1228.7" cy="1464.1" r="4.0"/><circle cx="1236.1" cy="1468.5" r="4.0"/><circle cx="1267.8" cy="1467.0" r="4.0"/><circle cx="1273.6" cy="1464.1" r="4.0"/><circle cx="1282.8" cy="1466.4" r="4.0"/><circle cx="1275.9" cy="1470.5" r="4.0"/><circle cx="1287.4" cy="1468.7" r="4.0"/><circle cx="1288.5" cy="1472.2" r="4.0"/><circle cx="1308.1" cy="1468.7" r="4.0"/><circle cx="1319.6" cy="1466.4" r="4.0"/><circle cx="1296.6" cy="1473.6" r="4.0"/><circle cx="1216.0" cy="1476.8" r="4.0"/><circle cx="1221.8" cy="1476.8" r="4.0"/><circle cx="1264.3" cy="1477.4" r="4.0"/><circle cx="1275.9" cy="1478.5" r="4.0"/><circle cx="1283.3" cy="1479.1" r="4.0"/><circle cx="1269.5" cy="1482.5" r="4.0"/><circle cx="1315.6" cy="1478.8" r="4.0"/><circle cx="1326.0" cy="1479.1" r="4.0"/><circle cx="1180.3" cy="1484.3" r="4.0"/><circle cx="1212.0" cy="1486.0" r="4.0"/><circle cx="1225.8" cy="1486.0" r="4.0"/><circle cx="1232.1" cy="1483.1" r="4.0"/><circle cx="1257.4" cy="1486.0" r="4.0"/><circle cx="1254.0" cy="1490.6" r="4.0"/><circle cx="1256.3" cy="1491.2" r="4.0"/><circle cx="1270.1" cy="1492.9" r="4.0"/><circle cx="1275.3" cy="1496.9" r="4.0"/><circle cx="1279.9" cy="1496.4" r="4.0"/><circle cx="1283.9" cy="1490.6" r="4.0"/><circle cx="1288.5" cy="1487.1" r="4.0"/><circle cx="1297.7" cy="1488.3" r="4.0"/><circle cx="1297.7" cy="1492.3" r="4.0"/><circle cx="1255.1" cy="1498.7" r="4.0"/><circle cx="1262.0" cy="1502.1" r="4.0"/><circle cx="1262.0" cy="1497.5" r="4.0"/><circle cx="1233.3" cy="1497.5" r="4.0"/><circle cx="1240.8" cy="1504.7" r="4.0"/><circle cx="1248.2" cy="1509.9" r="4.0"/><circle cx="1321.9" cy="1496.6" r="4.0"/><circle cx="1307.5" cy="1503.0" r="4.0"/><circle cx="1326.5" cy="1504.2" r="4.0"/><circle cx="1319.6" cy="1509.2" r="4.0"/><circle cx="1297.7" cy="1507.9" r="4.0"/><circle cx="1308.1" cy="1513.0" r="4.0"/><circle cx="1186.1" cy="1509.0" r="4.0"/><circle cx="1267.6" cy="1529.4" r="4.0"/><circle cx="1251.5" cy="1542.4" r="4.0"/><circle cx="1300.6" cy="1542.4" r="4.0"/><circle cx="1346.6" cy="1425.5" r="4.0"/><circle cx="1363.4" cy="1420.6" r="4.0"/><circle cx="1425.8" cy="1420.1" r="4.0"/><circle cx="1364.4" cy="1446.8" r="4.0"/><circle cx="1422.3" cy="1450.5" r="4.0"/><circle cx="1424.9" cy="1467.2" r="4.0"/><circle cx="1387.2" cy="1479.1" r="4.0"/><circle cx="1349.0" cy="1492.0" r="4.0"/><circle cx="1409.7" cy="1508.5" r="4.0"/><circle cx="1394.7" cy="1543.0" r="4.0"/></g>
<g fill="#999999"><path d="M1246.6 1391.6H1258.0L1252.3 1381.8Z"/><path d="M1320.6 1400.2H1332.0L1326.3 1390.4Z"/><path d="M1273.8 1411.7H1285.2L1279.5 1401.9Z"/><path d="M1308.2 1413.4H1319.6L1313.9 1403.6Z"/><path d="M1201.7 1412.9H1213.1L1207.4 1403.1Z"/><path d="M1386.1 1312.7H1397.5L1391.8 1302.9Z"/><path d="M1422.4 1356.1H1433.8L1428.1 1346.3Z"/><path d="M1375.8 1364.5H1387.2L1381.5 1354.7Z"/><path d="M1351.8 1386.4H1363.2L1357.5 1376.6Z"/><path d="M1385.0 1401.9H1396.4L1390.7 1392.1Z"/><path d="M1399.9 1412.3H1411.3L1405.6 1402.5Z"/><path d="M1426.2 1412.3H1437.6L1431.9 1402.5Z"/><path d="M1465.6 1413.4H1477.0L1471.3 1403.6Z"/><path d="M1522.6 1412.9H1534.0L1528.3 1403.1Z"/><path d="M1253.8 1436.8H1265.2L1259.5 1427.0Z"/><path d="M1273.4 1436.2H1284.8L1279.1 1426.4Z"/><path d="M1290.9 1435.1H1302.3L1296.6 1425.2Z"/><path d="M1330.0 1471.3H1341.4L1335.7 1461.5Z"/><path d="M1332.3 1481.1H1343.7L1338.0 1471.3Z"/><path d="M1323.1 1492.0H1334.5L1328.8 1482.2Z"/><path d="M1375.4 1424.1H1386.8L1381.1 1414.3Z"/><path d="M1392.5 1422.4H1403.9L1398.2 1412.6Z"/><path d="M1410.3 1423.5H1421.7L1416.0 1413.7Z"/><path d="M1443.7 1421.2H1455.1L1449.4 1411.4Z"/><path d="M1347.0 1436.8H1358.4L1352.7 1427.0Z"/><path d="M1358.5 1433.3H1369.9L1364.2 1423.5Z"/><path d="M1367.7 1436.2H1379.1L1373.4 1426.4Z"/><path d="M1391.9 1434.5H1403.3L1397.6 1424.7Z"/><path d="M1398.2 1436.8H1409.6L1403.9 1427.0Z"/><path d="M1406.8 1435.6H1418.2L1412.5 1425.8Z"/><path d="M1424.7 1440.8H1436.1L1430.4 1431.0Z"/><path d="M1450.0 1438.5H1461.4L1455.7 1428.7Z"/><path d="M1456.9 1440.8H1468.3L1462.6 1431.0Z"/><path d="M1486.9 1435.1H1498.3L1492.6 1425.2Z"/><path d="M1507.9 1443.7H1519.3L1513.6 1433.9Z"/><path d="M1383.8 1445.4H1395.2L1389.5 1435.6Z"/><path d="M1391.3 1444.8H1402.7L1397.0 1435.0Z"/><path d="M1348.7 1457.5H1360.1L1354.4 1447.7Z"/><path d="M1380.9 1456.4H1392.3L1386.6 1446.5Z"/><path d="M1399.3 1457.5H1410.8L1405.0 1447.7Z"/><path d="M1404.5 1456.9H1415.9L1410.2 1447.1Z"/><path d="M1427.0 1454.6H1438.4L1432.7 1444.8Z"/><path d="M1466.7 1456.4H1478.1L1472.4 1446.5Z"/><path d="M1370.0 1465.6H1381.4L1375.7 1455.8Z"/><path d="M1416.0 1465.6H1427.5L1421.8 1455.8Z"/><path d="M1465.0 1469.0H1476.4L1470.7 1459.2Z"/><path d="M1474.8 1470.2H1486.2L1480.5 1460.4Z"/><path d="M1506.4 1468.4H1517.8L1512.1 1458.6Z"/><path d="M1336.6 1480.5H1348.0L1342.3 1470.7Z"/><path d="M1348.1 1480.5H1359.5L1353.8 1470.7Z"/><path d="M1383.8 1480.5H1395.2L1389.5 1470.7Z"/><path d="M1474.2 1480.5H1485.6L1479.9 1470.7Z"/><path d="M1479.4 1482.8H1490.8L1485.1 1473.0Z"/><path d="M1492.6 1480.0H1504.0L1498.3 1470.1Z"/><path d="M1530.0 1480.5H1541.4L1535.7 1470.7Z"/><path d="M1335.5 1473.1H1346.9L1341.2 1463.2Z"/><path d="M1416.0 1486.9H1427.5L1421.8 1477.1Z"/><path d="M1433.9 1489.7H1445.3L1439.6 1479.9Z"/><path d="M1449.4 1486.3H1460.8L1455.1 1476.5Z"/><path d="M1406.8 1493.8H1418.2L1412.5 1484.0Z"/><path d="M1418.9 1494.4H1430.3L1424.6 1484.5Z"/><path d="M1434.5 1494.4H1445.9L1440.2 1484.5Z"/><path d="M1413.2 1498.4H1424.6L1418.9 1488.6Z"/><path d="M1467.6 1494.4H1479.0L1473.3 1484.5Z"/><path d="M1509.3 1498.4H1520.7L1515.0 1488.6Z"/><path d="M1518.5 1501.3H1529.9L1524.2 1491.5Z"/><path d="M1512.2 1507.0H1523.6L1517.9 1497.2Z"/><path d="M1385.5 1504.1H1396.9L1391.2 1494.3Z"/><path d="M1399.3 1507.0H1410.8L1405.0 1497.2Z"/><path d="M1405.7 1504.7H1417.1L1411.4 1494.9Z"/><path d="M1455.2 1509.3H1466.6L1460.9 1499.5Z"/><path d="M1465.6 1512.2H1477.0L1471.3 1502.4Z"/><path d="M1472.5 1512.2H1483.9L1478.2 1502.4Z"/><path d="M1421.8 1519.1H1433.2L1427.5 1509.3Z"/><path d="M1463.3 1520.8H1474.7L1469.0 1511.0Z"/><path d="M1347.5 1531.2H1358.9L1353.2 1521.4Z"/><path d="M1342.9 1535.2H1354.3L1348.6 1525.4Z"/><path d="M1389.0 1539.8H1400.4L1394.7 1530.0Z"/><path d="M1441.4 1537.0H1452.8L1447.1 1527.1Z"/><path d="M1474.2 1533.5H1485.6L1479.9 1523.7Z"/><path d="M1376.9 1546.2H1388.3L1382.6 1536.4Z"/><path d="M1451.7 1543.9H1463.1L1457.4 1534.1Z"/><path d="M1501.2 1548.5H1512.7L1507.0 1538.7Z"/><path d="M1424.7 1552.5H1436.1L1430.4 1542.7Z"/><path d="M1484.6 1554.8H1496.0L1490.3 1545.0Z"/><path d="M1433.9 1559.4H1445.3L1439.6 1549.6Z"/><path d="M1495.5 1563.4H1506.9L1501.2 1553.6Z"/><path d="M1533.5 1537.0H1544.9L1539.2 1527.1Z"/><path d="M1585.6 1467.0H1597.0L1591.3 1457.2Z"/><path d="M1608.6 1490.5H1620.0L1614.3 1480.7Z"/><path d="M1597.6 1515.8H1609.0L1603.3 1506.0Z"/><path d="M1614.5 1515.1H1625.9L1620.2 1505.3Z"/><path d="M1554.0 1555.2H1565.4L1559.7 1545.4Z"/><path d="M1608.6 1577.7H1620.0L1614.3 1567.9Z"/><path d="M1533.7 1619.5H1545.1L1539.4 1609.7Z"/></g>
<line x1="1085.45" y1="1456.02" x2="1736.5" y2="1456.02" stroke="#000" stroke-width="3.4"/>
<line x1="1084.85" y1="1367.51" x2="1736.5" y2="1367.51" stroke="#000" stroke-width="3.4" stroke-dasharray="13.8 13.37"/>
<line x1="1084.85" y1="1544.52" x2="1736.5" y2="1544.52" stroke="#000" stroke-width="3.4" stroke-dasharray="13.8 13.37"/>
<line x1="1144" y1="1427" x2="1619" y2="1507" stroke="#000" stroke-width="6.4"/>
</g>
<line x1="1115.04" y1="1764.40" x2="1115.04" y2="1773.30" stroke="#333" stroke-width="3"/>
<text transform="translate(1115.04,1800.60) scale(0.715,1.0)" x="-22.17 0.00" font-size="28.5" fill="#4D4D4D" stroke="#4D4D4D" stroke-width="0.7">10</text>
<line x1="1263.00" y1="1764.40" x2="1263.00" y2="1773.30" stroke="#333" stroke-width="3"/>
<text transform="translate(1263.00,1800.60) scale(0.715,1.0)" x="-22.17 0.00" font-size="28.5" fill="#4D4D4D" stroke="#4D4D4D" stroke-width="0.7">20</text>
<line x1="1410.96" y1="1764.40" x2="1410.96" y2="1773.30" stroke="#333" stroke-width="3"/>
<text transform="translate(1410.96,1800.60) scale(0.715,1.0)" x="-22.17 0.00" font-size="28.5" fill="#4D4D4D" stroke="#4D4D4D" stroke-width="0.7">30</text>
<line x1="1558.92" y1="1764.40" x2="1558.92" y2="1773.30" stroke="#333" stroke-width="3"/>
<text transform="translate(1558.92,1800.60) scale(0.715,1.0)" x="-22.17 0.00" font-size="28.5" fill="#4D4D4D" stroke="#4D4D4D" stroke-width="0.7">40</text>
<line x1="1706.88" y1="1764.40" x2="1706.88" y2="1773.30" stroke="#333" stroke-width="3"/>
<text transform="translate(1706.88,1800.60) scale(0.715,1.0)" x="-22.17 0.00" font-size="28.5" fill="#4D4D4D" stroke="#4D4D4D" stroke-width="0.7">50</text>
<line x1="1076.55" y1="1142.85" x2="1085.45" y2="1142.85" stroke="#333" stroke-width="3"/>
<text transform="translate(1069.35,1152.95) scale(0.715,1.0)" x="-44.34 -22.17" font-size="28.5" fill="#4D4D4D" stroke="#4D4D4D" stroke-width="0.7">10</text>
<line x1="1076.55" y1="1290.85" x2="1085.45" y2="1290.85" stroke="#333" stroke-width="3"/>
<text transform="translate(1069.35,1300.95) scale(0.715,1.0)" x="-22.17" font-size="28.5" fill="#4D4D4D" stroke="#4D4D4D" stroke-width="0.7">5</text>
<line x1="1076.55" y1="1438.85" x2="1085.45" y2="1438.85" stroke="#333" stroke-width="3"/>
<text transform="translate(1069.35,1448.95) scale(0.715,1.0)" x="-22.17" font-size="28.5" fill="#4D4D4D" stroke="#4D4D4D" stroke-width="0.7">0</text>
<line x1="1076.55" y1="1586.85" x2="1085.45" y2="1586.85" stroke="#333" stroke-width="3"/>
<text transform="translate(1069.35,1596.95) scale(0.715,1.0)" x="-22.17" font-size="28.5" fill="#4D4D4D" stroke="#4D4D4D" stroke-width="0.7">5</text>
<text transform="translate(1069.35,1596.95)" x="-32.49" font-size="28.5" fill="#4D4D4D">−</text>
<line x1="1076.55" y1="1734.85" x2="1085.45" y2="1734.85" stroke="#333" stroke-width="3"/>
<text transform="translate(1069.35,1744.95) scale(0.715,1.0)" x="-44.34 -22.17" font-size="28.5" fill="#4D4D4D" stroke="#4D4D4D" stroke-width="0.7">10</text>
<text transform="translate(1069.35,1744.95)" x="-48.34" font-size="28.5" fill="#4D4D4D">−</text>
<line x1="1085.45" y1="1113.25" x2="1085.45" y2="1764.40" stroke="#000" stroke-width="3.3"/>
<line x1="1085.45" y1="1764.40" x2="1736.50" y2="1764.40" stroke="#000" stroke-width="3.3"/>
<text transform="translate(1410.97,1840.90) scale(0.715,1.0)" x="-182.58 -150.11 -125.78 -98.71 -82.50 -55.43 -28.36 -1.30 12.23 44.69 85.23 98.76 114.96 139.30 166.37" font-size="34.8" stroke="#000" stroke-width="0.7">Average SM (kg)</text>
<text transform="translate(1004.80,1438.85) rotate(-90) scale(0.715,1.0)" x="-202.85 -170.39 -129.84 -116.32 -81.17 -70.36 -56.83 -43.31 -16.24 -0.04 27.03 54.10 78.44 105.51 119.03 135.24 159.57 186.64" font-size="34.8" stroke="#000" stroke-width="0.7">SM Difference (kg)</text>
<text transform="translate(6.80,1087.70)" x="0.00" font-size="47" font-weight="bold">C</text>
<text transform="translate(923.70,1087.70)" x="0.00" font-size="47" font-weight="bold">D</text>
<text transform="translate(165.10,1214.60) scale(0.715,1.0)" x="0.00 24.20 37.64 65.90 79.35 92.79 119.70 133.15 160.06 186.97 200.42 228.68 242.12 269.04 282.48 309.39 336.31 349.75 368.58" font-size="34.6" stroke="#000" stroke-width="0.7">y =  1.78 + 0.90 *x</text>
<text transform="translate(189.20,1259.20) scale(0.715,1.0)" x="0.00 34.95 75.26 107.53 139.81 153.26 166.70 193.61 207.06 233.97 260.88 274.33 298.53" font-size="34.6" stroke="#000" stroke-width="0.7">RMSE: 1.63 kg</text>
<text transform="translate(1402.10,1159.50) scale(0.715,1.0)" x="0.00 24.20 37.64 65.90 79.35 92.79 119.70 133.15 160.06 186.97 200.42 228.68 270.38 297.30 310.74 337.65 364.57 378.01 396.84" font-size="34.6" stroke="#000" stroke-width="0.7">y =  1.43 + 0.08 *x</text>
<text transform="translate(1402.10,1159.50)" x="173.12" font-size="34.6">−</text>
<text transform="translate(1406.10,1210.70) scale(0.715,1.0)" x="0.00 26.91 53.83 96.85 110.30 137.21 174.85 207.13" font-size="34.6" stroke="#000" stroke-width="0.7">95% LOA:</text>
<text transform="translate(1575.20,1210.70) scale(0.715,1.0)" x="0.00" font-size="34.6" stroke="#000" stroke-width="0.7">±</text>
<text transform="translate(1595.41,1210.70) scale(0.715,1.0)" x="0.00 13.44 40.36 53.80 80.72 107.63 121.07 145.27" font-size="34.6" stroke="#000" stroke-width="0.7"> 2.99 kg</text>
<text transform="translate(240.90,1308.70) scale(0.715,1.0)" x="0.00" font-size="34.6" stroke="#000" stroke-width="0.7">R</text>
<text transform="translate(265.70,1290.80) scale(0.715,1.0)" x="0.00" font-size="24.2" stroke="#000" stroke-width="0.7">2</text>
<text transform="translate(288.70,1308.70)" x="0.00" font-size="34.6" font-weight="bold">:</text>
<text transform="translate(303.00,1308.70) scale(0.715,1.0)" x="0.00 26.91 40.36 67.27" font-size="34.6" stroke="#000" stroke-width="0.7">0.96</text>
<text transform="translate(542.20,32.80) scale(1,1.02)" x="0.00" font-size="44.17" font-weight="bold">Kim Equation Applied to Kiel Data</text>
<text transform="translate(542.20,1006.60) scale(1,1.02)" x="0.00" font-size="44.17" font-weight="bold">Kiel Equation Applied to Kim Data</text>
<rect x="685.5" y="960" width="425.5" height="72" fill="#fff"/>
<text transform="translate(702.85,91.30)" x="0.00" font-size="34.2">Sex</text>
<text transform="translate(852.45,89.50)" x="0.00" font-size="28.6">Female</text>
<text transform="translate(1035.45,89.50)" x="0.00" font-size="28.6">Male</text>
<text transform="translate(702.85,1007.30) scale(0.715,1.0)" x="0.00 31.90 58.51" font-size="34.2" stroke="#000" stroke-width="0.7">Sex</text>
<text transform="translate(852.45,1005.50) scale(0.715,1.0)" x="0.00 24.43 46.68 80.00 102.25 111.13" font-size="28.6" stroke="#000" stroke-width="0.7">Female</text>
<text transform="translate(1035.45,1005.50) scale(0.715,1.0)" x="0.00 33.32 55.57 64.45" font-size="28.6" stroke="#000" stroke-width="0.7">Male</text>
<circle cx="808.05" cy="78.95" r="4.2" fill="#333"/>
<path d="M985.8 82.6H997L991.4 72.9Z" fill="#999"/>
</svg>
</body></html>
